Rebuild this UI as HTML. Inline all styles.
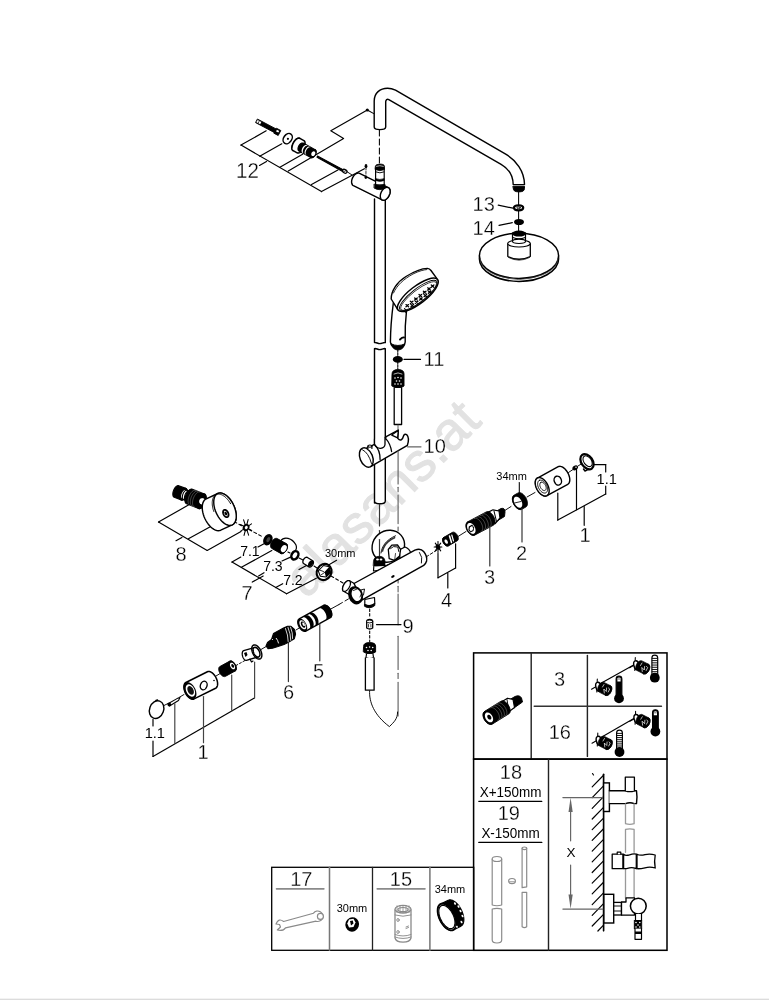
<!DOCTYPE html>
<html><head><meta charset="utf-8"><style>
html,body{margin:0;padding:0;background:#fff;}
body{width:769px;height:1000px;overflow:hidden;position:relative;}
svg{position:absolute;left:0;top:0;will-change:transform;}
text{font-family:"Liberation Sans",sans-serif;}
.t{stroke:#fff;stroke-width:0.3px;}

</style></head><body>
<svg width="769" height="1000" viewBox="0 0 769 1000" stroke-linecap="round" stroke-linejoin="round">
<text x="0" y="0" font-size="54" fill="#e2e2e2" stroke="#e2e2e2" stroke-width="1" transform="translate(306.6,599.6) rotate(-45)" letter-spacing="0.4">alasans.at</text>
<path d="M374.5,199 L374.5,342.6 C376.5,342.2 377.5,343.6 379.8,343.6 C382,343.6 383,342.3 385.3,342.6 L385.3,199" fill="#fff" stroke="#000" stroke-width="1.42"/>
<path d="M374.5,503 L374.5,348.6 C376.5,348.2 377.5,349.6 379.8,349.6 C382,349.6 383,348.3 385.3,348.6 L385.3,501 Q385.3,503.8 379.9,503.8 Q374.5,503.8 374.5,501 Z" fill="#fff" stroke="#000" stroke-width="1.42"/>
<path d="M374.2,127 L374.2,101 C374.2,93 380,88.3 387.6,88.3 C390.5,88.3 393,89 395.5,90.2 L505.7,154.2 C516,160.2 524.4,171 524.5,184.6 L513.2,184.6 C513,175 508,168.3 501.1,164.3 L388.8,99.6 C387.2,98.8 385.7,99.6 385.7,102 L385.7,127 Q385.7,129.6 379.95,129.6 Q374.2,129.6 374.2,127 Z" fill="#fff" stroke="#000" stroke-width="1.42"/>
<path d="M513.2,186.3 L524.5,186.3 L524.5,188.4 Q524.5,191.9 518.85,191.9 Q513.2,191.9 513.2,188.4 Z" fill="#000" stroke="#000" stroke-width="0.94"/>
<line x1="379.4" y1="130" x2="379.4" y2="165" stroke="#000" stroke-width="1.06" stroke-dasharray="6 3"/>
<ellipse cx="367.3" cy="110" rx="1.6" ry="1.6" fill="#000" stroke="none"/>
<line x1="367.3" y1="110" x2="373.8" y2="113.6" stroke="#000" stroke-width="1.06"/>
<polygon points="382.12,199.98 382.65,200.17 383.22,200.26 383.82,200.24 384.45,200.1 385.09,199.86 385.73,199.52 386.36,199.07 386.98,198.54 387.56,197.93 388.1,197.24 388.59,196.5 389.03,195.71 389.4,194.89 389.69,194.04 389.92,193.2 390.05,192.36 390.11,191.55 390.08,190.78 389.97,190.06 389.78,189.41 389.51,188.82 389.16,188.33 388.75,187.93 388.28,187.62 359.58,173.32 359.05,173.13 358.48,173.04 357.88,173.06 357.25,173.2 356.61,173.44 355.97,173.78 355.34,174.23 354.72,174.76 354.14,175.37 353.6,176.06 353.11,176.8 352.67,177.59 352.3,178.41 352.01,179.26 351.78,180.1 351.65,180.94 351.59,181.75 351.62,182.52 351.73,183.24 351.92,183.89 352.19,184.48 352.54,184.97 352.95,185.37 353.42,185.68" fill="#fff" stroke="#000" stroke-width="1.42"/>
<polygon points="382.12,199.98 382.65,200.17 383.22,200.26 383.82,200.24 384.45,200.1 385.09,199.86 385.73,199.52 386.36,199.07 386.98,198.54 387.56,197.93 388.1,197.24 388.59,196.5 389.03,195.71 389.4,194.89 389.69,194.04 389.92,193.2 390.05,192.36 390.11,191.55 390.08,190.78 389.97,190.06 389.78,189.41 389.51,188.82 389.16,188.33 388.75,187.93 388.28,187.62 387.75,187.43 387.18,187.34 386.58,187.36 385.95,187.5 385.31,187.74 384.67,188.08 384.04,188.53 383.42,189.06 382.84,189.67 382.3,190.36 381.81,191.1 381.37,191.89 381,192.71 380.71,193.56 380.48,194.4 380.35,195.24 380.29,196.05 380.32,196.82 380.43,197.54 380.62,198.19 380.89,198.78 381.24,199.27 381.65,199.67 382.12,199.98" fill="#fff" stroke="#000" stroke-width="1.42"/>
<rect x="375.6" y="168" width="8.6" height="17" stroke-linejoin="miter" fill="#fff" stroke="#000" stroke-width="1.18"/>
<path d="M375.3,166.3 Q375.6,164 379.9,164 Q384.2,164 384.5,166.3 L384.5,169.6 Q379.9,171.8 375.3,169.6 Z" fill="#000" stroke="#000" stroke-width="0.71"/>
<path d="M376.5,166.3 Q379.9,165 383.3,166.3" fill="none" stroke="#fff" stroke-width="0.71"/>
<path d="M376,172 Q379.9,173.8 383.8,172" fill="none" stroke="#000" stroke-width="0.94"/>
<path d="M375.6,178.6 Q379.9,180.3 384.2,178.6 L384.2,180.5 Q379.9,182.3 375.6,180.5 Z" fill="#000" stroke="#000" stroke-width="0.59"/>
<path d="M374.3,184.2 Q379.7,186.5 385,184.2 L385,188.2 Q379.7,191.2 374.3,188.2 Z" fill="#000" stroke="#000" stroke-width="0.71"/>
<ellipse cx="366" cy="166.2" rx="1.4" ry="2.1" fill="#000" stroke="none"/>
<ellipse cx="365.8" cy="177.6" rx="1.3" ry="1.3" fill="#000" stroke="none"/>
<line x1="366" y1="168" x2="365.9" y2="176" stroke="#000" stroke-width="0.83" stroke-dasharray="2 1.5"/>
<line x1="241" y1="145.1" x2="321.5" y2="191.6" stroke="#000" stroke-width="1.18"/>
<line x1="241" y1="145.1" x2="266.2" y2="130.8" stroke="#000" stroke-width="1.18"/>
<line x1="259.7" y1="156.2" x2="281.8" y2="143.8" stroke="#000" stroke-width="1.18"/>
<line x1="279.9" y1="167.2" x2="302.6" y2="154.2" stroke="#000" stroke-width="1.18"/>
<polyline points="288.3,171.1 343.6,138.6 330.8,130.8 367.3,110" fill="none" stroke="#000" stroke-width="1.18"/>
<line x1="311.5" y1="184.4" x2="337.9" y2="170.1" stroke="#000" stroke-width="1.18"/>
<line x1="321.5" y1="191.6" x2="364.4" y2="168.7" stroke="#000" stroke-width="1.18"/>
<line x1="259.5" y1="165.4" x2="266.5" y2="161.6" stroke="#000" stroke-width="1.18"/>
<text class="t" transform="translate(236,177.7) scale(0.95,1)" font-size="21.63" text-anchor="start" fill="#000" >12</text>
<polygon points="257.73,119.23 276.01,128.9 276.39,128.19 280.81,130.52 278.19,135.48 273.77,133.14 274.14,132.43 255.87,122.77" fill="#000" stroke="#000" stroke-width="0.94"/>
<polygon points="257.63,120.08 261.34,122.04 260.22,124.16 256.5,122.2" fill="#fff" stroke="none"/>
<line x1="259.4" y1="120.79" x2="258.09" y2="123.27" stroke="#000" stroke-width="0.71"/>
<polygon points="276.89,129.81 279.19,131.02 278.35,132.62 276.05,131.4" fill="#fff" stroke="none"/>
<ellipse cx="287.7" cy="138.6" rx="4" ry="5.6" transform="rotate(35 287.7 138.6)" fill="#fff" stroke="#000" stroke-width="1.53"/>
<ellipse cx="287.9" cy="138.8" rx="1.1" ry="1.1" fill="#000" stroke="none"/>
<polygon points="297.13,152.83 297.56,153 298.04,153.06 298.56,153.01 299.11,152.86 299.69,152.59 300.28,152.23 300.88,151.77 301.47,151.23 302.04,150.61 302.59,149.92 303.1,149.17 303.57,148.39 303.98,147.57 304.34,146.74 304.62,145.91 304.84,145.09 304.99,144.3 305.05,143.56 305.04,142.86 304.95,142.23 304.79,141.68 304.55,141.21 304.24,140.84 303.87,140.57 299.87,138.37 299.44,138.2 298.96,138.14 298.44,138.19 297.89,138.34 297.31,138.61 296.72,138.97 296.12,139.43 295.53,139.97 294.96,140.59 294.41,141.28 293.9,142.03 293.43,142.81 293.02,143.63 292.66,144.46 292.38,145.29 292.16,146.11 292.01,146.9 291.95,147.64 291.96,148.34 292.05,148.97 292.21,149.52 292.45,149.99 292.76,150.36 293.13,150.63" fill="#fff" stroke="#000" stroke-width="1.53"/>
<polyline points="299.84,138.35 299.63,138.25 299.41,138.18 299.18,138.14 298.93,138.13 298.67,138.14 298.41,138.18 298.13,138.24 297.85,138.34 297.57,138.46 297.28,138.6 296.98,138.77 296.69,138.97 296.39,139.19 296.09,139.43 295.8,139.69 295.51,139.98 295.22,140.28 294.94,140.6 294.66,140.94 294.39,141.29 294.13,141.66 293.89,142.04 293.65,142.43 293.42,142.83 293.21,143.24 293.01,143.65 292.83,144.06 292.66,144.48 292.51,144.9 292.38,145.31 292.26,145.72 292.17,146.13 292.09,146.53 292.03,146.92 291.99,147.3 291.96,147.67 291.96,148.02 291.98,148.36 292.01,148.69 292.07,148.99 292.14,149.28 292.24,149.54 292.35,149.79 292.48,150.01 292.62,150.21 292.79,150.38 292.97,150.53 293.16,150.65" fill="#fff" stroke="#000" stroke-width="1.53"/>
<polygon points="310.88,157.46 311.17,157.57 311.5,157.63 311.85,157.61 312.22,157.52 312.61,157.37 313,157.15 313.39,156.87 313.78,156.54 314.15,156.15 314.5,155.72 314.83,155.26 315.12,154.77 315.38,154.25 315.6,153.73 315.77,153.2 315.9,152.68 315.97,152.18 316,151.7 315.97,151.25 315.9,150.84 315.77,150.48 315.6,150.18 315.38,149.93 315.12,149.74 303.12,143.14 302.83,143.03 302.5,142.97 302.15,142.99 301.78,143.08 301.39,143.23 301,143.45 300.61,143.73 300.22,144.06 299.85,144.45 299.5,144.88 299.17,145.34 298.88,145.83 298.62,146.35 298.4,146.87 298.23,147.4 298.1,147.92 298.03,148.42 298,148.9 298.03,149.35 298.1,149.76 298.23,150.12 298.4,150.42 298.62,150.67 298.88,150.86" fill="#000" stroke="#000" stroke-width="1.18"/>
<polygon points="306.7,145.11 306.4,145 306.08,144.95 305.73,144.97 305.35,145.05 304.97,145.21 304.58,145.43 304.19,145.71 303.81,146.05 303.44,146.43 303.09,146.86 302.77,147.33 302.47,147.83 302.22,148.34 302,148.87 301.83,149.39 301.71,149.91 301.63,150.42 301.61,150.9 301.64,151.35 301.72,151.75 301.85,152.11 302.02,152.42 302.24,152.66 302.5,152.85 303.7,153.51 303.44,153.32 303.22,153.08 303.05,152.77 302.92,152.41 302.84,152.01 302.81,151.56 302.83,151.08 302.91,150.57 303.03,150.05 303.2,149.53 303.42,149 303.67,148.49 303.97,147.99 304.29,147.52 304.64,147.09 305.01,146.71 305.39,146.37 305.78,146.09 306.17,145.87 306.55,145.71 306.93,145.63 307.28,145.61 307.6,145.66 307.9,145.77" fill="#fff" stroke="none"/>
<polygon points="309.7,146.76 309.4,146.65 309.08,146.6 308.73,146.62 308.35,146.7 307.97,146.86 307.58,147.08 307.19,147.36 306.81,147.7 306.44,148.08 306.09,148.51 305.77,148.98 305.47,149.48 305.22,149.99 305,150.52 304.83,151.04 304.71,151.56 304.63,152.07 304.61,152.55 304.64,153 304.72,153.4 304.85,153.76 305.02,154.07 305.24,154.31 305.5,154.5 306.46,155.02 306.2,154.84 305.98,154.59 305.81,154.29 305.68,153.93 305.6,153.52 305.57,153.08 305.59,152.6 305.67,152.09 305.79,151.57 305.96,151.04 306.18,150.52 306.43,150 306.73,149.51 307.05,149.04 307.4,148.61 307.77,148.22 308.15,147.89 308.54,147.61 308.93,147.39 309.31,147.23 309.69,147.14 310.04,147.12 310.36,147.17 310.66,147.29" fill="#fff" stroke="none"/>
<polygon points="310.9,157.47 311.22,157.6 311.57,157.66 311.95,157.65 312.34,157.58 312.75,157.43 313.16,157.22 313.56,156.95 313.96,156.62 314.34,156.24 314.7,155.82 315.03,155.35 315.32,154.86 315.57,154.34 315.78,153.82 315.95,153.28 316.06,152.76 316.12,152.25 316.12,151.76 316.08,151.3 315.98,150.88 315.83,150.51 315.63,150.19 315.38,149.93 315.1,149.73 314.78,149.6 314.43,149.54 314.05,149.55 313.66,149.62 313.25,149.77 312.84,149.98 312.44,150.25 312.04,150.58 311.66,150.96 311.3,151.38 310.97,151.85 310.68,152.34 310.43,152.86 310.22,153.38 310.05,153.92 309.94,154.44 309.88,154.95 309.88,155.44 309.92,155.9 310.02,156.32 310.17,156.69 310.37,157.01 310.62,157.27 310.9,157.47" fill="#000" stroke="#000" stroke-width="1.18"/>
<polygon points="312.11,155.9 312.33,156 312.57,156.05 312.83,156.07 313.09,156.05 313.36,155.99 313.62,155.89 313.88,155.75 314.13,155.57 314.37,155.37 314.58,155.13 314.78,154.87 314.95,154.59 315.09,154.3 315.2,154 315.28,153.69 315.32,153.38 315.33,153.07 315.31,152.78 315.25,152.5 315.16,152.24 315.03,152.01 314.88,151.81 314.7,151.64 314.49,151.5 314.27,151.4 314.03,151.35 313.77,151.33 313.51,151.35 313.24,151.41 312.98,151.51 312.72,151.65 312.47,151.83 312.23,152.03 312.02,152.27 311.82,152.53 311.65,152.81 311.51,153.1 311.4,153.4 311.32,153.71 311.28,154.02 311.27,154.33 311.29,154.62 311.35,154.9 311.44,155.16 311.57,155.39 311.72,155.59 311.9,155.76 312.11,155.9" fill="#fff" stroke="none"/>
<path d="M317.5,156 L343,169.6 L342.2,171.2 L317,157.2 Z" fill="#000" stroke="#000" stroke-width="1.06"/>
<ellipse cx="344.8" cy="171.3" rx="2.4" ry="1.7" transform="rotate(30 344.8 171.3)" fill="#fff" stroke="#000" stroke-width="1.3"/>
<line x1="343.5" y1="171.8" x2="346.3" y2="170.6" stroke="#000" stroke-width="0.71"/>
<line x1="347.5" y1="172" x2="352" y2="175" stroke="#000" stroke-width="0.94"/>
<line x1="518.6" y1="192" x2="518.6" y2="231" stroke="#000" stroke-width="1.06"/>
<ellipse cx="518.6" cy="207.8" rx="4.6" ry="2.5" fill="#fff" stroke="#000" stroke-width="2.24"/>
<ellipse cx="518.6" cy="207.8" rx="1.8" ry="0.8" fill="#fff" stroke="#000" stroke-width="0.83"/>
<line x1="498.2" y1="205.1" x2="513" y2="208.2" stroke="#000" stroke-width="1.18"/>
<text class="t" transform="translate(472.6,210.8) scale(0.95,1)" font-size="21.1" text-anchor="start" fill="#000" >13</text>
<ellipse cx="519" cy="222" rx="5" ry="3.1" fill="#000" stroke="none"/>
<line x1="499" y1="225.4" x2="512.3" y2="222.7" stroke="#000" stroke-width="1.18"/>
<text class="t" transform="translate(472.6,234.9) scale(0.95,1)" font-size="21.1" text-anchor="start" fill="#000" >14</text>
<ellipse cx="519" cy="258.8" rx="39.6" ry="22.6" fill="#fff" stroke="#000" stroke-width="1.53"/>
<ellipse cx="519" cy="255.8" rx="39.6" ry="22.6" fill="#fff" stroke="#000" stroke-width="1.53"/>
<path d="M480.2,258.5 Q481,276 519,279.7 Q557,276 557.8,258.5" fill="none" stroke="#444" stroke-width="0.71"/>
<path d="M507.8,244 L507.8,256.5 Q519,262 530.3,256.5 L530.3,244" fill="#fff" stroke="#000" stroke-width="1.3"/>
<ellipse cx="519" cy="243.5" rx="11.3" ry="3.5" fill="#fff" stroke="#000" stroke-width="1.18"/>
<path d="M508.5,257.5 Q519,263 529.6,257.5" fill="none" stroke="#000" stroke-width="0.71"/>
<rect x="512.5" y="233" width="13" height="8.5" stroke-linejoin="miter" fill="#fff" stroke="#000" stroke-width="1.18"/>
<ellipse cx="519" cy="241.3" rx="6.5" ry="2.2" fill="#fff" stroke="#000" stroke-width="1.06"/>
<ellipse cx="519" cy="233.6" rx="7" ry="3" fill="#000" stroke="none"/>
<path d="M512.8,237.5 Q519,240 525.2,237.5" fill="none" stroke="#000" stroke-width="1.18"/>
<path d="M393.3,303 C391.8,315 390.5,330 390.4,342 Q391,347.5 397.7,347.8 Q404.8,347.5 405.2,342 L405.3,326 L406.5,310.7" fill="#fff" stroke="#000" stroke-width="1.42"/>
<path d="M391.5,344 Q392.5,349.8 397.9,350 Q403.5,349.8 404.5,344 Q397.9,347 391.5,344 Z" fill="#000" stroke="#000" stroke-width="0.94"/>
<path d="M400,339.5 Q402.5,337 404,337.5" fill="none" stroke="#000" stroke-width="1.89"/>
<path d="M391.2,299 C391,291 397,282 406,276.5 C414,271.5 421,268.6 427.5,268.4 Q429.5,268.5 431,270.5 L436.9,278.7 L397.5,309.2 Z" fill="#fff" stroke="#000" stroke-width="1.42"/>
<path d="M393.5,293 C397,285 404,279 413,274 C419,271 424,269.8 426.5,269.6" fill="none" stroke="#000" stroke-width="0.83"/>
<ellipse cx="417.8" cy="294.8" rx="25" ry="8.6" transform="rotate(-37.7 417.8 294.8)" fill="#fff" stroke="#000" stroke-width="1.53"/>
<ellipse cx="418.35" cy="295.51" rx="23.2" ry="6.9" transform="rotate(-37.7 418.35 295.51)" fill="#fff" stroke="#000" stroke-width="0.94"/>
<ellipse cx="418.66" cy="295.91" rx="22.2" ry="6" transform="rotate(-37.7 418.66 295.91)" fill="none" stroke="#000" stroke-width="0.71"/>
<path d="M405.97700649389645,304.6135973753159 L408.5770064938965,306.81359737531596 M405.97700649389645,306.81359737531596 L408.5770064938965,304.6135973753159" fill="none" stroke="#000" stroke-width="1.3"/>
<path d="M410.32873592521764,301.25019865429385 L412.92873592521767,303.4501986542939 M410.32873592521764,303.4501986542939 L412.92873592521767,301.25019865429385" fill="none" stroke="#000" stroke-width="1.3"/>
<path d="M414.68046535653883,297.8867999332718 L417.28046535653885,300.08679993327183 M414.68046535653883,300.08679993327183 L417.28046535653885,297.8867999332718" fill="none" stroke="#000" stroke-width="1.3"/>
<path d="M419.03219478786,294.5234012122497 L421.63219478786004,296.72340121224977 M419.03219478786,296.72340121224977 L421.63219478786004,294.5234012122497" fill="none" stroke="#000" stroke-width="1.3"/>
<path d="M423.3839242191812,291.16000249122766 L425.98392421918123,293.3600024912277 M423.3839242191812,293.3600024912277 L425.98392421918123,291.16000249122766" fill="none" stroke="#000" stroke-width="1.3"/>
<path d="M427.73565365050246,287.79660377020554 L430.3356536505025,289.9966037702056 M427.73565365050246,289.9966037702056 L430.3356536505025,287.79660377020554" fill="none" stroke="#000" stroke-width="1.3"/>
<path d="M431.2961595488561,285.04473208936935 L433.89615954885613,287.2447320893694 M431.2961595488561,287.2447320893694 L433.89615954885613,285.04473208936935" fill="none" stroke="#000" stroke-width="1.3"/>
<path d="M410.97648174632394,304.5411598134751 L413.57648174632396,306.7411598134751 M410.97648174632394,306.7411598134751 L413.57648174632396,304.5411598134751" fill="none" stroke="#000" stroke-width="1.3"/>
<path d="M415.32821117764513,301.177761092453 L417.92821117764515,303.37776109245306 M415.32821117764513,303.37776109245306 L417.92821117764515,301.177761092453" fill="none" stroke="#000" stroke-width="1.3"/>
<path d="M419.6799406089663,297.81436237143095 L422.27994060896634,300.014362371431 M419.6799406089663,300.014362371431 L422.27994060896634,297.81436237143095" fill="none" stroke="#000" stroke-width="1.3"/>
<path d="M424.0316700402875,294.4509636504089 L426.63167004028753,296.6509636504089 M424.0316700402875,296.6509636504089 L426.63167004028753,294.4509636504089" fill="none" stroke="#000" stroke-width="1.3"/>
<path d="M428.3833994716087,291.0875649293868 L430.9833994716087,293.28756492938686 M428.3833994716087,293.28756492938686 L430.9833994716087,291.0875649293868" fill="none" stroke="#000" stroke-width="1.3"/>
<path d="M404.5,308.5 L406.5,311 L405.8,312.5" fill="none" stroke="#000" stroke-width="1.18"/>
<line x1="397.8" y1="350" x2="397.8" y2="369" stroke="#000" stroke-width="1.06" stroke-dasharray="2 1"/>
<ellipse cx="397.8" cy="359.4" rx="5" ry="3.3" fill="#000" stroke="none"/>
<line x1="404" y1="359.4" x2="420.5" y2="359.4" stroke="#000" stroke-width="1.18"/>
<text class="t" transform="translate(423.5,365.8) scale(0.95,1)" font-size="21.1" text-anchor="start" fill="#000" >11</text>
<path d="M392,374 Q392,369.6 398,369.6 Q404,369.6 404,374 L404,386 Q398,390.5 392,386 Z" fill="#000" stroke="#000" stroke-width="0.94"/>
<ellipse cx="395" cy="378" rx="0.8" ry="0.8" fill="#fff" stroke="none"/>
<ellipse cx="398" cy="377.5" rx="0.8" ry="0.8" fill="#fff" stroke="none"/>
<ellipse cx="401" cy="378" rx="0.8" ry="0.8" fill="#fff" stroke="none"/>
<ellipse cx="396.5" cy="381" rx="0.8" ry="0.8" fill="#fff" stroke="none"/>
<ellipse cx="399.5" cy="381" rx="0.8" ry="0.8" fill="#fff" stroke="none"/>
<ellipse cx="395" cy="384" rx="0.8" ry="0.8" fill="#fff" stroke="none"/>
<ellipse cx="398" cy="384" rx="0.8" ry="0.8" fill="#fff" stroke="none"/>
<ellipse cx="401" cy="384" rx="0.8" ry="0.8" fill="#fff" stroke="none"/>
<path d="M394,374 Q398,371.6 402,374" fill="none" stroke="#fff" stroke-width="0.71"/>
<path d="M394.2,388 L394.2,424.5 L401.6,424.5 L401.6,388" fill="#fff" stroke="#000" stroke-width="1.3"/>
<line x1="398" y1="425" x2="398" y2="433" stroke="#555" stroke-width="0.94"/>
<path d="M361.5,450.6 L374.5,444.3 L385,439.2 L386.2,436.7 L398.3,430.1 L397.8,438.4 Q399.5,440.6 401.2,439.9 Q402.9,438.6 403.8,435.2 Q405,433.6 406.6,434.6 Q409.8,437.8 407.4,445.3 L370.6,466.6 Z" fill="#fff" stroke="#000" stroke-width="1.42"/>
<path d="M374.5,439 L374.5,444.3 Q376.5,448.6 380.7,448.3 Q384.6,447.8 385,444.5 L385,437.5" fill="#fff" stroke="#000" stroke-width="1.3"/>
<path d="M391.7,435.1 L398.2,430.6 L397.6,437.9 Z" fill="#fff" stroke="#000" stroke-width="1.18"/>
<path d="M374.6,444.8 Q380.2,450 380.1,459.5" fill="none" stroke="#000" stroke-width="1.3"/>
<path d="M385.8,438.6 Q390.3,443.5 391.6,451.5" fill="none" stroke="#000" stroke-width="1.3"/>
<ellipse cx="366.3" cy="457.5" rx="6.3" ry="10.1" transform="rotate(-22 366.3 457.5)" fill="#fff" stroke="#000" stroke-width="1.42"/>
<path d="M362.5,449.8 Q368.5,452.5 371.5,463.5" fill="none" stroke="#000" stroke-width="0.94"/>
<path d="M367.9,449.8 L367.9,446.2 L371.9,446.2 L371.9,448.6 Z" fill="#fff" stroke="none"/>
<line x1="367.9" y1="446.2" x2="367.9" y2="449.6" stroke="#000" stroke-width="1.18"/>
<line x1="371.9" y1="446.2" x2="371.9" y2="448.4" stroke="#000" stroke-width="1.18"/>
<ellipse cx="369.9" cy="446.1" rx="2" ry="1.1" fill="#fff" stroke="#000" stroke-width="1.06"/>
<line x1="407.5" y1="446.8" x2="421" y2="446.8" stroke="#666" stroke-width="1.18"/>
<text class="t" transform="translate(423.5,453.4) scale(0.95,1)" font-size="21.1" text-anchor="start" fill="#000" >10</text>
<line x1="205" y1="506" x2="244" y2="527" stroke="#000" stroke-width="1.06" stroke-dasharray="3 2.5"/>
<line x1="249" y1="529.5" x2="263" y2="537" stroke="#000" stroke-width="1.06" stroke-dasharray="3 2.5"/>
<line x1="283" y1="549.5" x2="290" y2="553" stroke="#000" stroke-width="1.06" stroke-dasharray="3 2.5"/>
<line x1="299" y1="558" x2="303" y2="560" stroke="#000" stroke-width="1.06"/>
<line x1="314" y1="566" x2="317" y2="568" stroke="#000" stroke-width="1.06"/>
<line x1="331" y1="576" x2="343" y2="583" stroke="#000" stroke-width="1.06" stroke-dasharray="3 2.5"/>
<line x1="162" y1="706.5" x2="168" y2="703.5" stroke="#000" stroke-width="0.94"/>
<line x1="179" y1="697.5" x2="184" y2="694.5" stroke="#000" stroke-width="0.94"/>
<line x1="216" y1="676" x2="221" y2="673" stroke="#000" stroke-width="0.94"/>
<line x1="236" y1="665.5" x2="245" y2="660.5" stroke="#000" stroke-width="0.94" stroke-dasharray="2 2"/>
<line x1="261" y1="649.5" x2="267" y2="646" stroke="#000" stroke-width="0.94"/>
<line x1="296" y1="630" x2="300" y2="627.5" stroke="#000" stroke-width="0.94"/>
<line x1="329" y1="610" x2="339" y2="604.5" stroke="#000" stroke-width="0.94"/>
<line x1="339" y1="604.5" x2="350" y2="598" stroke="#000" stroke-width="0.94" stroke-dasharray="4 3"/>
<line x1="426" y1="557" x2="437" y2="550" stroke="#000" stroke-width="0.94" stroke-dasharray="3 2"/>
<line x1="458" y1="536.5" x2="466" y2="531.5" stroke="#000" stroke-width="0.94"/>
<line x1="504" y1="511" x2="511" y2="506.5" stroke="#000" stroke-width="0.94"/>
<line x1="527" y1="497" x2="535" y2="492.5" stroke="#000" stroke-width="0.94"/>
<line x1="568.5" y1="472.5" x2="573" y2="469.5" stroke="#000" stroke-width="0.94"/>
<line x1="578" y1="466" x2="582" y2="463.5" stroke="#000" stroke-width="0.94"/>
<line x1="379.5" y1="504" x2="379.5" y2="526" stroke="#333" stroke-width="1.18"/>
<line x1="379.5" y1="530.5" x2="379.5" y2="537" stroke="#333" stroke-width="1.18"/>
<line x1="398.1" y1="451" x2="398.1" y2="484" stroke="#666" stroke-width="1.18"/>
<line x1="398.1" y1="487.3" x2="398.1" y2="491.7" stroke="#666" stroke-width="1.18"/>
<line x1="398.1" y1="495" x2="398.1" y2="523.6" stroke="#666" stroke-width="1.18"/>
<line x1="398.1" y1="527" x2="398.1" y2="531" stroke="#666" stroke-width="1.18"/>
<line x1="398.1" y1="534.5" x2="398.1" y2="566" stroke="#666" stroke-width="1.18"/>
<line x1="398.1" y1="576.4" x2="398.1" y2="583" stroke="#666" stroke-width="1.18"/>
<line x1="398.1" y1="586.3" x2="398.1" y2="591.8" stroke="#666" stroke-width="1.18"/>
<line x1="398.1" y1="594" x2="398.1" y2="624.8" stroke="#666" stroke-width="1.18"/>
<line x1="398.1" y1="636.3" x2="398.1" y2="669.4" stroke="#666" stroke-width="1.18"/>
<line x1="398.1" y1="673.3" x2="398.1" y2="678.5" stroke="#666" stroke-width="1.18"/>
<line x1="398.1" y1="682.4" x2="398.1" y2="716" stroke="#666" stroke-width="1.18"/>
<line x1="369.7" y1="609" x2="369.7" y2="618" stroke="#000" stroke-width="1.06" stroke-dasharray="2.5 2"/>
<line x1="369.7" y1="631" x2="369.7" y2="642" stroke="#000" stroke-width="1.06" stroke-dasharray="2.5 2"/>
<ellipse cx="388.3" cy="546.2" rx="16.8" ry="15.4" transform="rotate(-40 388.3 546.2)" fill="#fff" stroke="#000" stroke-width="1.42"/>
<line x1="379.5" y1="539.5" x2="379.5" y2="556" stroke="#333" stroke-width="1.18"/>
<path d="M381,553 C382,546 386,540 395.5,535.8" fill="none" stroke="#000" stroke-width="0.94"/>
<path d="M382.5,551 C384,545 388,540.5 395,537.5" fill="none" stroke="#333" stroke-width="1.65" stroke-dasharray="0.6 0.6"/>
<path d="M399,550 L405,547 Q409.5,548.5 411,553.5 L404.5,559 L400,558.5 Z" fill="#fff" stroke="#000" stroke-width="1.3"/>
<path d="M388.3,549.5 L391.8,545.2 L397.5,545 L400.6,549.3 L399.6,556 L394.6,560.3 L389.2,558.7 Z" fill="#fff" stroke="#000" stroke-width="1.3"/>
<path d="M390.6,548.6 L393.5,546.6 L397.8,547 L398.8,551.5" fill="none" stroke="#000" stroke-width="0.94"/>
<line x1="394.6" y1="560.3" x2="395.5" y2="553.5" stroke="#000" stroke-width="0.71"/>
<path d="M373.5,561 Q374,556.5 379.2,556.3 Q384.5,556.5 385,561 L385,566 Q379.2,569 373.5,566 Z" fill="#000" stroke="#000" stroke-width="0.71"/>
<ellipse cx="377.5" cy="559.5" rx="1.4" ry="1" fill="#fff" stroke="none"/>
<ellipse cx="381" cy="559.5" rx="1.4" ry="1" fill="#fff" stroke="none"/>
<path d="M373.8,566.5 L373.5,571 L384,569.5 L391,565.5 L391.5,563.5 L385,566" fill="#fff" stroke="#000" stroke-width="1.18"/>
<polygon points="349.48,580.79 349.11,580.64 348.7,580.58 348.25,580.62 347.78,580.74 347.28,580.96 346.76,581.26 346.25,581.65 345.73,582.11 345.23,582.63 344.75,583.21 344.31,583.84 343.9,584.51 343.53,585.2 343.21,585.91 342.95,586.62 342.76,587.32 342.62,587.99 342.55,588.63 342.55,589.23 342.62,589.77 342.75,590.24 342.95,590.65 343.21,590.97 343.52,591.21 350.52,595.21 350.89,595.36 351.3,595.42 351.75,595.38 352.22,595.26 352.72,595.04 353.24,594.74 353.75,594.35 354.27,593.89 354.77,593.37 355.25,592.79 355.69,592.16 356.1,591.49 356.47,590.8 356.79,590.09 357.05,589.38 357.24,588.68 357.38,588.01 357.45,587.37 357.45,586.77 357.38,586.23 357.25,585.76 357.05,585.35 356.79,585.03 356.48,584.79" fill="#fff" stroke="#000" stroke-width="1.3"/>
<polygon points="349.48,580.79 349.11,580.64 348.7,580.58 348.25,580.62 347.78,580.74 347.28,580.96 346.76,581.26 346.25,581.65 345.73,582.11 345.23,582.63 344.75,583.21 344.31,583.84 343.9,584.51 343.53,585.2 343.21,585.91 342.95,586.62 342.76,587.32 342.62,587.99 342.55,588.63 342.55,589.23 342.62,589.77 342.75,590.24 342.95,590.65 343.21,590.97 343.52,591.21 343.89,591.36 344.3,591.42 344.75,591.38 345.22,591.26 345.72,591.04 346.24,590.74 346.75,590.35 347.27,589.89 347.77,589.37 348.25,588.79 348.69,588.16 349.1,587.49 349.47,586.8 349.79,586.09 350.05,585.38 350.24,584.68 350.38,584.01 350.45,583.37 350.45,582.77 350.38,582.23 350.25,581.76 350.05,581.35 349.79,581.03 349.48,580.79" fill="#fff" stroke="#000" stroke-width="1.3"/>
<path d="M354,583.5 L414.9,550.2 Q420.5,547.8 423.6,551.5 Q427.5,556 426.6,561 Q425.8,563.8 423.7,565.4 L362.2,599.9 Z" fill="#fff" stroke="#000" stroke-width="1.42"/>
<path d="M419.5,552.5 Q423,557 421.5,563" fill="none" stroke="#000" stroke-width="0.94"/>
<ellipse cx="392.9" cy="576.5" rx="1.9" ry="1.1" transform="rotate(-30 392.9 576.5)" fill="#000" stroke="none"/>
<ellipse cx="355.6" cy="595.3" rx="7.3" ry="9.3" transform="rotate(-20 355.6 595.3)" fill="#000" stroke="none"/>
<ellipse cx="356.4" cy="594.8" rx="4.6" ry="6.4" transform="rotate(-20 356.4 594.8)" fill="#fff" stroke="none"/>
<path d="M353.5,590.5 L357,589 M360,597 L361.5,593.5" fill="none" stroke="#000" stroke-width="0.83"/>
<path d="M361,590 L364.5,589 L363.5,595" fill="none" stroke="#000" stroke-width="0.94"/>
<path d="M364.8,599.5 L374.5,597.5 L374.8,603.5 Q370,607 364.8,604.5 Z" fill="#fff" stroke="#000" stroke-width="1.18"/>
<path d="M364.8,604.5 Q370,607.5 374.8,603.5 L374.8,605.5 Q370,609.5 364.8,606.5 Z" fill="#000" stroke="#000" stroke-width="0.94"/>
<path d="M366.7,621.5 Q366.7,619.5 369.7,619.5 Q372.7,619.5 372.7,621.5 L372.7,628 Q369.7,630 366.7,628 Z" fill="#fff" stroke="#000" stroke-width="1.3"/>
<ellipse cx="369.7" cy="621.5" rx="3" ry="1.4" fill="#fff" stroke="#000" stroke-width="0.94"/>
<line x1="368.5" y1="624.5" x2="368.5" y2="627" stroke="#000" stroke-width="0.71"/>
<line x1="370.9" y1="624.5" x2="370.9" y2="627" stroke="#000" stroke-width="0.71"/>
<line x1="376.5" y1="624.6" x2="401" y2="624.6" stroke="#000" stroke-width="1.18"/>
<text class="t" transform="translate(402.5,632.7) scale(0.95,1)" font-size="21.1" text-anchor="start" fill="#000" >9</text>
<polygon points="181.27,499.98 181.67,500.08 182.09,500.08 182.55,499.97 183.01,499.77 183.49,499.47 183.97,499.08 184.44,498.61 184.89,498.06 185.32,497.44 185.72,496.77 186.08,496.06 186.39,495.32 186.66,494.55 186.87,493.78 187.03,493.02 187.12,492.27 187.15,491.56 187.12,490.9 187.03,490.29 186.88,489.75 186.67,489.28 186.4,488.9 186.09,488.61 185.73,488.42 178.73,485.72 178.33,485.62 177.91,485.62 177.45,485.73 176.99,485.93 176.51,486.23 176.03,486.62 175.56,487.09 175.11,487.64 174.68,488.26 174.28,488.93 173.92,489.64 173.61,490.38 173.34,491.15 173.13,491.92 172.97,492.68 172.88,493.43 172.85,494.14 172.88,494.8 172.97,495.41 173.12,495.95 173.33,496.42 173.6,496.8 173.91,497.09 174.27,497.28" fill="#000" stroke="#000" stroke-width="1.18"/>
<polygon points="181.27,499.98 181.67,500.08 182.09,500.08 182.55,499.97 183.01,499.77 183.49,499.47 183.97,499.08 184.44,498.61 184.89,498.06 185.32,497.44 185.72,496.77 186.08,496.06 186.39,495.32 186.66,494.55 186.87,493.78 187.03,493.02 187.12,492.27 187.15,491.56 187.12,490.9 187.03,490.29 186.88,489.75 186.67,489.28 186.4,488.9 186.09,488.61 185.73,488.42 185.33,488.32 184.91,488.32 184.45,488.43 183.99,488.63 183.51,488.93 183.03,489.32 182.56,489.79 182.11,490.34 181.68,490.96 181.28,491.63 180.92,492.34 180.61,493.08 180.34,493.85 180.13,494.62 179.97,495.38 179.88,496.13 179.85,496.84 179.88,497.5 179.97,498.11 180.12,498.65 180.33,499.12 180.6,499.5 180.91,499.79 181.27,499.98" fill="#000" stroke="#000" stroke-width="1.18"/>
<polygon points="187.71,501.17 188.03,501.25 188.38,501.24 188.74,501.16 189.12,500.99 189.5,500.75 189.89,500.43 190.26,500.05 190.63,499.61 190.97,499.11 191.29,498.57 191.58,498 191.83,497.39 192.05,496.78 192.22,496.16 192.34,495.54 192.42,494.94 192.44,494.37 192.42,493.83 192.34,493.34 192.22,492.9 192.05,492.53 191.83,492.22 191.58,491.99 191.29,491.83 185.29,489.53 184.97,489.45 184.62,489.46 184.26,489.54 183.88,489.71 183.5,489.95 183.11,490.27 182.74,490.65 182.37,491.09 182.03,491.59 181.71,492.13 181.42,492.7 181.17,493.31 180.95,493.92 180.78,494.54 180.66,495.16 180.58,495.76 180.56,496.33 180.58,496.87 180.66,497.36 180.78,497.8 180.95,498.17 181.17,498.48 181.42,498.71 181.71,498.87" fill="#fff" stroke="#000" stroke-width="1.18"/>
<polyline points="187.08,490.22 186.76,490.14 186.41,490.15 186.05,490.23 185.67,490.4 185.29,490.64 184.91,490.96 184.53,491.34 184.17,491.78 183.82,492.28 183.5,492.82 183.22,493.4 182.96,494 182.75,494.62 182.58,495.24 182.46,495.86 182.39,496.46 182.36,497.03 182.39,497.56 182.47,498.06 182.59,498.49 182.76,498.87 182.98,499.17 183.23,499.41 183.52,499.56" fill="none" stroke="#000" stroke-width="1.06"/>
<polyline points="189.18,491.02 188.86,490.95 188.51,490.95 188.15,491.04 187.77,491.2 187.39,491.45 187.01,491.76 186.63,492.14 186.27,492.59 185.92,493.08 185.6,493.63 185.32,494.2 185.06,494.81 184.85,495.42 184.68,496.04 184.56,496.66 184.49,497.26 184.46,497.83 184.49,498.37 184.57,498.86 184.69,499.3 184.86,499.67 185.08,499.98 185.33,500.21 185.62,500.37" fill="none" stroke="#000" stroke-width="1.06"/>
<polygon points="198.66,508.46 199.15,508.59 199.69,508.58 200.26,508.45 200.85,508.2 201.45,507.83 202.06,507.34 202.65,506.75 203.22,506.06 203.77,505.29 204.27,504.45 204.73,503.56 205.13,502.62 205.47,501.66 205.74,500.69 205.94,499.73 206.07,498.8 206.11,497.91 206.08,497.07 205.97,496.3 205.78,495.62 205.52,495.03 205.19,494.55 204.79,494.18 204.34,493.94 192.34,489.24 191.85,489.11 191.31,489.12 190.74,489.25 190.15,489.5 189.55,489.87 188.94,490.36 188.35,490.95 187.78,491.64 187.23,492.41 186.73,493.25 186.27,494.14 185.87,495.08 185.53,496.04 185.26,497.01 185.06,497.97 184.93,498.9 184.89,499.79 184.92,500.63 185.03,501.4 185.22,502.08 185.48,502.67 185.81,503.15 186.21,503.52 186.66,503.76" fill="#000" stroke="#000" stroke-width="1.18"/>
<polygon points="198.66,508.46 199.15,508.59 199.69,508.58 200.26,508.45 200.85,508.2 201.45,507.83 202.06,507.34 202.65,506.75 203.22,506.06 203.77,505.29 204.27,504.45 204.73,503.56 205.13,502.62 205.47,501.66 205.74,500.69 205.94,499.73 206.07,498.8 206.11,497.91 206.08,497.07 205.97,496.3 205.78,495.62 205.52,495.03 205.19,494.55 204.79,494.18 204.34,493.94 203.85,493.81 203.31,493.82 202.74,493.95 202.15,494.2 201.55,494.57 200.94,495.06 200.35,495.65 199.78,496.34 199.23,497.11 198.73,497.95 198.27,498.84 197.87,499.78 197.53,500.74 197.26,501.71 197.06,502.67 196.93,503.6 196.89,504.49 196.92,505.33 197.03,506.1 197.22,506.78 197.48,507.37 197.81,507.85 198.21,508.22 198.66,508.46" fill="#000" stroke="#000" stroke-width="1.18"/>
<polyline points="195.65,490.31 195.14,490.19 194.58,490.2 194,490.34 193.4,490.6 192.78,490.99 192.17,491.5 191.57,492.11 190.99,492.82 190.44,493.61 189.93,494.48 189.47,495.4 189.06,496.37 188.72,497.35 188.45,498.35 188.26,499.34 188.14,500.29 188.1,501.21 188.14,502.07 188.27,502.85 188.46,503.55 188.74,504.15 189.08,504.64 189.49,505.02 189.95,505.27" fill="none" stroke="#777" stroke-width="0.59"/>
<polyline points="197.85,491.17 197.34,491.05 196.78,491.06 196.2,491.2 195.6,491.46 194.98,491.85 194.37,492.36 193.77,492.97 193.19,493.68 192.64,494.47 192.13,495.34 191.67,496.26 191.26,497.23 190.92,498.21 190.65,499.21 190.46,500.2 190.34,501.15 190.3,502.07 190.34,502.93 190.47,503.71 190.66,504.41 190.94,505.01 191.28,505.5 191.69,505.88 192.15,506.13" fill="none" stroke="#777" stroke-width="0.59"/>
<polyline points="200.05,492.03 199.54,491.91 198.98,491.92 198.4,492.06 197.8,492.32 197.18,492.71 196.57,493.22 195.97,493.83 195.39,494.54 194.84,495.33 194.33,496.2 193.87,497.12 193.46,498.09 193.12,499.07 192.85,500.07 192.66,501.06 192.54,502.01 192.5,502.93 192.54,503.79 192.67,504.57 192.86,505.27 193.14,505.87 193.48,506.36 193.89,506.74 194.35,506.99" fill="none" stroke="#777" stroke-width="0.59"/>
<polygon points="201.06,504.29 201.44,504.41 201.83,504.47 202.23,504.48 202.63,504.43 203.03,504.33 203.4,504.18 203.76,503.98 204.09,503.73 204.39,503.44 204.65,503.12 204.87,502.76 205.04,502.38 205.17,501.98 205.24,501.57 205.26,501.16 205.23,500.74 205.15,500.34 205.01,499.95 204.83,499.59 204.61,499.25 204.34,498.95 204.04,498.69 203.7,498.48 203.34,498.31 202.96,498.19 202.57,498.13 202.17,498.12 201.77,498.17 201.37,498.27 201,498.42 200.64,498.62 200.31,498.87 200.01,499.16 199.75,499.48 199.53,499.84 199.36,500.22 199.23,500.62 199.16,501.03 199.14,501.44 199.17,501.86 199.25,502.26 199.39,502.65 199.57,503.01 199.79,503.35 200.06,503.65 200.36,503.91 200.7,504.12 201.06,504.29" fill="#fff" stroke="none"/>
<polygon points="232.24,524.91 233.31,524.26 234.23,523.35 235,522.19 235.59,520.82 236.01,519.24 236.23,517.49 236.26,515.61 236.1,513.61 235.75,511.53 235.22,509.42 234.51,507.3 233.64,505.22 232.62,503.2 231.47,501.29 230.21,499.51 228.86,497.9 227.45,496.48 225.99,495.27 224.52,494.31 223.05,493.6 221.62,493.16 220.24,492.99 218.95,493.1 217.76,493.49 206.26,498.79 205.19,499.44 204.27,500.35 203.5,501.51 202.91,502.88 202.49,504.46 202.27,506.21 202.24,508.09 202.4,510.09 202.75,512.17 203.28,514.28 203.99,516.4 204.86,518.48 205.88,520.5 207.03,522.41 208.29,524.19 209.64,525.8 211.05,527.22 212.51,528.43 213.98,529.39 215.45,530.1 216.88,530.54 218.26,530.71 219.55,530.6 220.74,530.21" fill="#fff" stroke="#000" stroke-width="1.42"/>
<polygon points="232.24,524.91 233.31,524.26 234.23,523.35 235,522.19 235.59,520.82 236.01,519.24 236.23,517.49 236.26,515.61 236.1,513.61 235.75,511.53 235.22,509.42 234.51,507.3 233.64,505.22 232.62,503.2 231.47,501.29 230.21,499.51 228.86,497.9 227.45,496.48 225.99,495.27 224.52,494.31 223.05,493.6 221.62,493.16 220.24,492.99 218.95,493.1 217.76,493.49 216.69,494.14 215.77,495.05 215,496.21 214.41,497.58 213.99,499.16 213.77,500.91 213.74,502.79 213.9,504.79 214.25,506.87 214.78,508.98 215.49,511.1 216.36,513.18 217.38,515.2 218.53,517.11 219.79,518.89 221.14,520.5 222.55,521.92 224.01,523.13 225.48,524.09 226.95,524.8 228.38,525.24 229.76,525.41 231.05,525.3 232.24,524.91" fill="#fff" stroke="#000" stroke-width="1.42"/>
<polyline points="230.57,503.72 230.07,502.87 229.54,502.04 228.99,501.24 228.42,500.48 227.84,499.74 227.23,499.04 226.62,498.38 225.99,497.76 225.35,497.18 224.71,496.65 224.06,496.16 223.4,495.72 222.75,495.33 222.1,494.99 221.46,494.7 220.82,494.47 220.18,494.29 219.56,494.16 218.96,494.09 218.36,494.07 217.79,494.11 217.23,494.21 216.7,494.36 216.18,494.56 215.7,494.82 215.24,495.13 214.8,495.49 214.4,495.9 214.03,496.36 213.69,496.87 213.38,497.42 213.1,498.02 212.87,498.66 212.67,499.34 212.5,500.05 212.37,500.8 212.29,501.58 212.23,502.39 212.22,503.23 212.25,504.09 212.31,504.97 212.41,505.87 212.55,506.78 212.73,507.71 212.95,508.64 213.2,509.58 213.48,510.51 213.8,511.45" fill="none" stroke="#000" stroke-width="0.94"/>
<polygon points="227.54,516.99 227.81,516.82 228.04,516.59 228.24,516.31 228.39,515.98 228.5,515.61 228.56,515.2 228.58,514.77 228.55,514.31 228.47,513.84 228.34,513.36 228.17,512.88 227.96,512.42 227.72,511.97 227.44,511.55 227.13,511.17 226.8,510.82 226.45,510.52 226.1,510.27 225.73,510.07 225.37,509.94 225.02,509.86 224.68,509.85 224.35,509.9 224.06,510.01 223.79,510.18 223.56,510.41 223.36,510.69 223.21,511.02 223.1,511.39 223.04,511.8 223.02,512.23 223.05,512.69 223.13,513.16 223.26,513.64 223.43,514.12 223.64,514.58 223.88,515.03 224.16,515.45 224.47,515.83 224.8,516.18 225.15,516.48 225.5,516.73 225.87,516.93 226.23,517.06 226.58,517.14 226.92,517.15 227.25,517.1 227.54,516.99" fill="#fff" stroke="#000" stroke-width="1.77"/>
<polygon points="226.69,515.29 226.83,515.2 226.95,515.08 227.05,514.94 227.13,514.77 227.18,514.58 227.22,514.37 227.22,514.15 227.21,513.91 227.17,513.67 227.1,513.43 227.02,513.18 226.91,512.95 226.78,512.72 226.64,512.5 226.48,512.3 226.31,512.13 226.14,511.97 225.95,511.84 225.77,511.74 225.58,511.67 225.4,511.64 225.22,511.63 225.06,511.65 224.91,511.71 224.77,511.8 224.65,511.92 224.55,512.06 224.47,512.23 224.42,512.42 224.38,512.63 224.38,512.85 224.39,513.09 224.43,513.33 224.5,513.57 224.58,513.82 224.69,514.05 224.82,514.28 224.96,514.5 225.12,514.7 225.29,514.87 225.46,515.03 225.65,515.16 225.83,515.26 226.02,515.33 226.2,515.36 226.38,515.37 226.54,515.35 226.69,515.29" fill="#000" stroke="none"/>
<line x1="240.51" y1="524.59" x2="251.69" y2="530.41" stroke="#000" stroke-width="1.06"/>
<line x1="243.59" y1="519.8" x2="248.61" y2="535.2" stroke="#000" stroke-width="1.06"/>
<line x1="248.14" y1="519.51" x2="244.06" y2="535.49" stroke="#000" stroke-width="1.06"/>
<line x1="251.49" y1="523.91" x2="240.71" y2="531.09" stroke="#000" stroke-width="1.06"/>
<ellipse cx="246.1" cy="527.5" rx="3.2" ry="3.8" transform="rotate(30 246.1 527.5)" fill="#000" stroke="none"/>
<ellipse cx="246.3" cy="527.5" rx="1.4" ry="1.8" transform="rotate(30 246.3 527.5)" fill="#fff" stroke="none"/>
<line x1="158.5" y1="522.1" x2="189.7" y2="504.3" stroke="#000" stroke-width="1.18"/>
<line x1="158.5" y1="522.1" x2="207.2" y2="550.4" stroke="#000" stroke-width="1.18"/>
<line x1="207.2" y1="550.4" x2="241" y2="531.6" stroke="#000" stroke-width="1.18"/>
<line x1="188.4" y1="538.7" x2="209.8" y2="527" stroke="#000" stroke-width="1.18"/>
<line x1="176" y1="540.7" x2="181.9" y2="537.4" stroke="#000" stroke-width="1.18"/>
<text class="t" transform="translate(175.5,561) scale(0.95,1)" font-size="21.1" text-anchor="start" fill="#000" >8</text>
<ellipse cx="267.9" cy="539.7" rx="4.4" ry="6" transform="rotate(28 267.9 539.7)" fill="#000" stroke="none"/>
<ellipse cx="268.3" cy="539.6" rx="1.6" ry="2.8" transform="rotate(28 268.3 539.6)" fill="#444" stroke="none"/>
<polygon points="280.78,553.4 281.19,553.57 281.63,553.65 282.11,553.65 282.61,553.56 283.13,553.38 283.65,553.12 284.17,552.77 284.68,552.36 285.17,551.88 285.63,551.34 286.06,550.76 286.44,550.13 286.77,549.48 287.04,548.81 287.25,548.13 287.4,547.47 287.49,546.81 287.5,546.19 287.45,545.61 287.32,545.08 287.14,544.6 286.89,544.19 286.58,543.86 286.22,543.6 277.22,538.6 276.81,538.43 276.37,538.35 275.89,538.35 275.39,538.44 274.87,538.62 274.35,538.88 273.83,539.23 273.32,539.64 272.83,540.12 272.37,540.66 271.94,541.24 271.56,541.87 271.23,542.52 270.96,543.19 270.75,543.87 270.6,544.53 270.51,545.19 270.5,545.81 270.55,546.39 270.68,546.92 270.86,547.4 271.11,547.81 271.42,548.14 271.78,548.4" fill="#000" stroke="#000" stroke-width="0.94"/>
<polygon points="280.78,553.4 281.19,553.57 281.63,553.65 282.11,553.65 282.61,553.56 283.13,553.38 283.65,553.12 284.17,552.77 284.68,552.36 285.17,551.88 285.63,551.34 286.06,550.76 286.44,550.13 286.77,549.48 287.04,548.81 287.25,548.13 287.4,547.47 287.49,546.81 287.5,546.19 287.45,545.61 287.32,545.08 287.14,544.6 286.89,544.19 286.58,543.86 286.22,543.6 285.81,543.43 285.37,543.35 284.89,543.35 284.39,543.44 283.87,543.62 283.35,543.88 282.83,544.23 282.32,544.64 281.83,545.12 281.37,545.66 280.94,546.24 280.56,546.87 280.23,547.52 279.96,548.19 279.75,548.87 279.6,549.53 279.51,550.19 279.5,550.81 279.55,551.39 279.68,551.92 279.86,552.4 280.11,552.81 280.42,553.14 280.78,553.4" fill="#000" stroke="#000" stroke-width="0.94"/>
<ellipse cx="283.8" cy="548.6" rx="2.6" ry="3.8" transform="rotate(30 283.8 548.6)" fill="#fff" stroke="none"/>
<path d="M280.5,541 C284,536 292,537.5 296,545 C297,548 296,550 295,551" fill="none" stroke="#000" stroke-width="1.18"/>
<ellipse cx="294.9" cy="555.3" rx="3.2" ry="4.4" transform="rotate(30 294.9 555.3)" fill="#fff" stroke="#000" stroke-width="2.48"/>
<polygon points="308.9,566.86 309.15,566.98 309.44,567.05 309.74,567.06 310.07,567.02 310.41,566.92 310.75,566.77 311.1,566.57 311.44,566.32 311.77,566.02 312.08,565.69 312.37,565.33 312.63,564.94 312.87,564.53 313.06,564.11 313.22,563.69 313.34,563.26 313.41,562.85 313.44,562.45 313.43,562.07 313.36,561.72 313.26,561.41 313.11,561.14 312.93,560.92 312.7,560.74 307.4,557.44 307.15,557.32 306.86,557.25 306.56,557.24 306.23,557.28 305.89,557.38 305.55,557.53 305.2,557.73 304.86,557.98 304.53,558.28 304.22,558.61 303.93,558.97 303.67,559.36 303.43,559.77 303.24,560.19 303.08,560.61 302.96,561.04 302.89,561.45 302.86,561.85 302.87,562.23 302.94,562.58 303.04,562.89 303.19,563.16 303.37,563.38 303.6,563.56" fill="#fff" stroke="#000" stroke-width="1.3"/>
<polygon points="308.7,566.66 308.95,566.78 309.24,566.85 309.54,566.86 309.87,566.82 310.21,566.72 310.55,566.57 310.9,566.37 311.24,566.12 311.57,565.82 311.88,565.49 312.17,565.13 312.43,564.74 312.67,564.33 312.86,563.91 313.02,563.49 313.14,563.06 313.21,562.65 313.24,562.25 313.23,561.87 313.16,561.52 313.06,561.21 312.91,560.94 312.73,560.72 312.5,560.54 312.25,560.42 311.96,560.35 311.66,560.34 311.33,560.38 310.99,560.48 310.65,560.63 310.3,560.83 309.96,561.08 309.63,561.38 309.32,561.71 309.03,562.07 308.77,562.46 308.53,562.87 308.34,563.29 308.18,563.71 308.06,564.14 307.99,564.55 307.96,564.95 307.97,565.33 308.04,565.68 308.14,565.99 308.29,566.26 308.47,566.48 308.7,566.66" fill="#000" stroke="none"/>
<ellipse cx="324.1" cy="572" rx="7.2" ry="8.3" transform="rotate(30 324.1 572)" fill="#fff" stroke="#000" stroke-width="2.12"/>
<path d="M323.5,565.5 L329.3,566.8 L330.6,572.6 L326,577 L320.3,576.2 L318.2,570.8 Z" fill="#fff" stroke="#000" stroke-width="1.06"/>
<path d="M324.5,572 L329.3,566.8 L330.6,572.6 L326,577 Z" fill="#000" stroke="none"/>
<line x1="319.5" y1="570" x2="323.5" y2="571.5" stroke="#000" stroke-width="0.83"/>
<line x1="321" y1="575" x2="324.5" y2="572.5" stroke="#000" stroke-width="0.83"/>
<text x="324.9" y="556.7" font-size="11" text-anchor="start" fill="#000" >30mm</text>
<line x1="336.6" y1="560.3" x2="329" y2="564.8" stroke="#000" stroke-width="1.06"/>
<line x1="232" y1="562.1" x2="286.6" y2="593.8" stroke="#000" stroke-width="1.18"/>
<line x1="286.6" y1="593.8" x2="316.3" y2="578.2" stroke="#000" stroke-width="1.18"/>
<line x1="232" y1="562.1" x2="240.8" y2="557" stroke="#000" stroke-width="1.18"/>
<text x="240.2" y="555.6" font-size="14" text-anchor="start" fill="#000" >7.1</text>
<line x1="258" y1="547" x2="264" y2="543.8" stroke="#000" stroke-width="1.18"/>
<line x1="241.4" y1="567.3" x2="271.8" y2="550.6" stroke="#000" stroke-width="1.18"/>
<line x1="258.6" y1="575.9" x2="264" y2="572.7" stroke="#000" stroke-width="1.18"/>
<text x="263.2" y="570.6" font-size="14" text-anchor="start" fill="#000" >7.3</text>
<line x1="282" y1="561" x2="290.5" y2="557.1" stroke="#000" stroke-width="1.18"/>
<line x1="275.7" y1="587.6" x2="282.7" y2="583.7" stroke="#000" stroke-width="1.18"/>
<text x="283.2" y="584.6" font-size="14" text-anchor="start" fill="#000" >7.2</text>
<line x1="299" y1="569.5" x2="306.5" y2="565.5" stroke="#000" stroke-width="1.18"/>
<line x1="252.3" y1="582.1" x2="263.2" y2="576" stroke="#000" stroke-width="1.18"/>
<text class="t" transform="translate(241.6,599.8) scale(0.95,1)" font-size="21.1" text-anchor="start" fill="#000" >7</text>
<ellipse cx="156.6" cy="709.6" rx="7" ry="9.1" transform="rotate(20 156.6 709.6)" fill="#fff" stroke="#000" stroke-width="1.42"/>
<line x1="156" y1="700.5" x2="157.5" y2="700" stroke="#000" stroke-width="1.42"/>
<path d="M168,703.7 L177,698.6 L180,697.5 L178.5,700.5 L169.5,706 Z" fill="#fff" stroke="#000" stroke-width="1.06"/>
<ellipse cx="169.3" cy="704.5" rx="1.8" ry="1.9" fill="#000" stroke="none"/>
<polygon points="185.9,682.46 185.34,682.83 184.87,683.33 184.48,683.95 184.19,684.69 183.99,685.54 183.9,686.47 183.91,687.47 184.03,688.53 184.25,689.63 184.56,690.75 184.97,691.86 185.47,692.95 186.04,694.01 186.69,695.01 187.38,695.93 188.13,696.77 188.9,697.5 189.7,698.12 190.49,698.61 191.28,698.96 192.05,699.17 192.79,699.24 193.47,699.16 194.1,698.94 215.6,688.24 216.16,687.87 216.63,687.37 217.02,686.75 217.31,686.01 217.51,685.16 217.6,684.23 217.59,683.23 217.47,682.17 217.25,681.07 216.94,679.95 216.53,678.84 216.03,677.75 215.46,676.69 214.81,675.69 214.12,674.77 213.37,673.93 212.6,673.2 211.8,672.58 211.01,672.09 210.22,671.74 209.45,671.53 208.71,671.46 208.03,671.54 207.4,671.76" fill="#fff" stroke="#000" stroke-width="1.53"/>
<polygon points="185.9,682.46 185.29,682.86 184.76,683.38 184.32,684.03 183.98,684.8 183.74,685.66 183.61,686.62 183.58,687.64 183.67,688.71 183.87,689.82 184.17,690.94 184.57,692.06 185.06,693.16 185.64,694.21 186.29,695.21 187,696.12 187.77,696.95 188.57,697.67 189.4,698.26 190.24,698.73 191.08,699.06 191.9,699.25 192.68,699.29 193.42,699.19 194.1,698.94 194.71,698.54 195.24,698.02 195.68,697.37 196.02,696.6 196.26,695.74 196.39,694.78 196.42,693.76 196.33,692.69 196.13,691.58 195.83,690.46 195.43,689.34 194.94,688.24 194.36,687.19 193.71,686.19 193,685.28 192.23,684.45 191.43,683.73 190.6,683.14 189.76,682.67 188.92,682.34 188.1,682.15 187.32,682.11 186.58,682.21 185.9,682.46" fill="#000" stroke="none"/>
<polygon points="187.46,684.59 187.01,684.88 186.61,685.26 186.28,685.74 186.02,686.29 185.84,686.92 185.73,687.61 185.7,688.35 185.76,689.12 185.89,689.92 186.1,690.73 186.38,691.54 186.74,692.32 187.15,693.08 187.62,693.79 188.14,694.45 188.7,695.03 189.28,695.54 189.89,695.97 190.5,696.3 191.11,696.53 191.71,696.66 192.29,696.68 192.84,696.6 193.34,696.41 193.79,696.12 194.19,695.74 194.52,695.26 194.78,694.71 194.96,694.08 195.07,693.39 195.1,692.65 195.04,691.88 194.91,691.08 194.7,690.27 194.42,689.46 194.06,688.68 193.65,687.92 193.18,687.21 192.66,686.55 192.1,685.97 191.52,685.46 190.91,685.03 190.3,684.7 189.69,684.47 189.09,684.34 188.51,684.32 187.96,684.4 187.46,684.59" fill="#fff" stroke="none"/>
<polygon points="188.55,686.28 188.23,686.48 187.96,686.75 187.73,687.08 187.55,687.47 187.42,687.91 187.35,688.39 187.33,688.9 187.36,689.44 187.46,690 187.6,690.56 187.8,691.12 188.05,691.67 188.34,692.2 188.66,692.69 189.03,693.15 189.41,693.56 189.82,693.92 190.24,694.21 190.67,694.44 191.1,694.6 191.52,694.69 191.92,694.71 192.3,694.65 192.65,694.52 192.97,694.32 193.24,694.05 193.47,693.72 193.65,693.33 193.78,692.89 193.85,692.41 193.87,691.9 193.84,691.36 193.74,690.8 193.6,690.24 193.4,689.68 193.15,689.13 192.86,688.6 192.54,688.11 192.17,687.65 191.79,687.24 191.38,686.88 190.96,686.59 190.53,686.36 190.1,686.2 189.68,686.11 189.28,686.09 188.9,686.15 188.55,686.28" fill="#111" stroke="none"/>
<ellipse cx="203.7" cy="685.5" rx="3.3" ry="4.4" transform="rotate(20 203.7 685.5)" fill="#fff" stroke="#000" stroke-width="1.42"/>
<ellipse cx="214" cy="680.5" rx="0.8" ry="0.8" fill="#000" stroke="none"/>
<polygon points="235.2,670.91 235.53,670.67 235.81,670.36 236.03,669.97 236.19,669.51 236.28,668.99 236.32,668.42 236.28,667.81 236.19,667.17 236.03,666.51 235.81,665.84 235.53,665.17 235.2,664.52 234.82,663.89 234.41,663.3 233.96,662.75 233.49,662.26 233,661.84 232.5,661.48 232,661.2 231.51,661.01 231.04,660.9 230.59,660.88 230.18,660.94 229.8,661.09 219.8,666.59 219.47,666.83 219.19,667.14 218.97,667.53 218.81,667.99 218.72,668.51 218.68,669.08 218.72,669.69 218.81,670.33 218.97,670.99 219.19,671.66 219.47,672.33 219.8,672.98 220.18,673.61 220.59,674.2 221.04,674.75 221.51,675.24 222,675.66 222.5,676.02 223,676.3 223.49,676.49 223.96,676.6 224.41,676.62 224.82,676.56 225.2,676.41" fill="#000" stroke="#000" stroke-width="0.94"/>
<polygon points="235.2,670.91 235.53,670.67 235.81,670.36 236.03,669.97 236.19,669.51 236.28,668.99 236.32,668.42 236.28,667.81 236.19,667.17 236.03,666.51 235.81,665.84 235.53,665.17 235.2,664.52 234.82,663.89 234.41,663.3 233.96,662.75 233.49,662.26 233,661.84 232.5,661.48 232,661.2 231.51,661.01 231.04,660.9 230.59,660.88 230.18,660.94 229.8,661.09 229.47,661.33 229.19,661.64 228.97,662.03 228.81,662.49 228.72,663.01 228.68,663.58 228.72,664.19 228.81,664.83 228.97,665.49 229.19,666.16 229.47,666.83 229.8,667.48 230.18,668.11 230.59,668.7 231.04,669.25 231.51,669.74 232,670.16 232.5,670.52 233,670.8 233.49,670.99 233.96,671.1 234.41,671.12 234.82,671.06 235.2,670.91" fill="#000" stroke="#000" stroke-width="0.94"/>
<polygon points="234.23,669.15 234.47,668.99 234.67,668.78 234.83,668.52 234.95,668.21 235.03,667.87 235.07,667.49 235.06,667.09 235.01,666.68 234.91,666.25 234.78,665.81 234.6,665.38 234.39,664.96 234.15,664.56 233.88,664.18 233.58,663.83 233.27,663.52 232.95,663.25 232.61,663.03 232.28,662.86 231.94,662.75 231.62,662.69 231.31,662.68 231.03,662.74 230.77,662.85 230.53,663.01 230.33,663.22 230.17,663.48 230.05,663.79 229.97,664.13 229.93,664.51 229.94,664.91 229.99,665.32 230.09,665.75 230.22,666.19 230.4,666.62 230.61,667.04 230.85,667.44 231.12,667.82 231.42,668.17 231.73,668.48 232.05,668.75 232.39,668.97 232.72,669.14 233.06,669.25 233.38,669.31 233.69,669.32 233.97,669.26 234.23,669.15" fill="#fff" stroke="none"/>
<polygon points="233.66,667.65 233.79,667.56 233.9,667.44 233.99,667.3 234.06,667.13 234.1,666.94 234.13,666.73 234.12,666.51 234.09,666.28 234.04,666.04 233.97,665.79 233.87,665.56 233.75,665.32 233.62,665.1 233.47,664.89 233.3,664.7 233.13,664.52 232.95,664.37 232.76,664.25 232.58,664.16 232.39,664.09 232.21,664.06 232.04,664.06 231.88,664.09 231.74,664.15 231.61,664.24 231.5,664.36 231.41,664.5 231.34,664.67 231.3,664.86 231.27,665.07 231.28,665.29 231.31,665.52 231.36,665.76 231.43,666.01 231.53,666.24 231.65,666.48 231.78,666.7 231.93,666.91 232.1,667.1 232.27,667.28 232.45,667.43 232.64,667.55 232.82,667.64 233.01,667.71 233.19,667.74 233.36,667.74 233.52,667.71 233.66,667.65" fill="#000" stroke="none"/>
<polygon points="257.88,657.01 258.18,656.87 258.45,656.66 258.69,656.38 258.9,656.02 259.06,655.59 259.17,655.11 259.25,654.58 259.27,654.01 259.25,653.4 259.18,652.78 259.06,652.14 258.9,651.51 258.7,650.89 258.46,650.29 258.19,649.72 257.89,649.2 257.57,648.73 257.22,648.31 256.87,647.97 256.51,647.69 256.15,647.5 255.79,647.38 255.45,647.35 255.12,647.39 243.62,650.69 243.32,650.83 243.05,651.04 242.81,651.32 242.6,651.68 242.44,652.11 242.33,652.59 242.25,653.12 242.23,653.69 242.25,654.3 242.32,654.92 242.44,655.56 242.6,656.19 242.8,656.81 243.04,657.41 243.31,657.98 243.61,658.5 243.93,658.97 244.28,659.39 244.63,659.73 244.99,660.01 245.35,660.2 245.71,660.32 246.05,660.35 246.38,660.31" fill="#fff" stroke="#000" stroke-width="1.3"/>
<polygon points="258.84,656.84 259.15,656.64 259.42,656.35 259.64,656 259.8,655.58 259.91,655.1 259.96,654.57 259.95,654 259.88,653.41 259.76,652.79 259.57,652.16 259.34,651.53 259.05,650.91 258.73,650.32 258.36,649.75 257.96,649.23 257.54,648.76 257.1,648.35 256.65,648.01 256.2,647.73 255.75,647.54 255.31,647.42 254.9,647.38 254.51,647.43 254.16,647.56 253.85,647.76 253.58,648.05 253.36,648.4 253.2,648.82 253.09,649.3 253.04,649.83 253.05,650.4 253.12,650.99 253.24,651.61 253.43,652.24 253.66,652.87 253.95,653.49 254.27,654.08 254.64,654.65 255.04,655.17 255.46,655.64 255.9,656.05 256.35,656.39 256.8,656.67 257.25,656.86 257.69,656.98 258.1,657.02 258.49,656.97 258.84,656.84" fill="#fff" stroke="#000" stroke-width="1.42"/>
<polygon points="260.22,658.79 260.68,658.48 261.07,658.07 261.39,657.55 261.63,656.94 261.79,656.24 261.86,655.47 261.84,654.64 261.74,653.76 261.56,652.86 261.29,651.94 260.95,651.02 260.53,650.12 260.05,649.25 259.52,648.43 258.94,647.66 258.32,646.98 257.68,646.38 257.02,645.87 256.36,645.47 255.7,645.18 255.07,645.01 254.46,644.96 253.89,645.03 253.38,645.21 252.92,645.52 252.53,645.93 252.21,646.45 251.97,647.06 251.81,647.76 251.74,648.53 251.76,649.36 251.86,650.24 252.04,651.14 252.31,652.06 252.65,652.98 253.07,653.88 253.55,654.75 254.08,655.57 254.66,656.34 255.28,657.02 255.92,657.62 256.58,658.13 257.24,658.53 257.9,658.82 258.53,658.99 259.14,659.04 259.71,658.97 260.22,658.79" fill="none" stroke="#000" stroke-width="1.42"/>
<path d="M244,653 L246.5,652 L247.5,655 L245.5,657 Z" fill="#000" stroke="none"/>
<path d="M250,659 L251.5,662 L253,661" fill="none" stroke="#000" stroke-width="1.18"/>
<path d="M266,646 L267.5,642.5 L271.5,639.5 L273.5,633.5 L279,630.5 L283.5,628 L287.5,626.2 L291,626.3 L294.5,629.3 L295.6,634 L294.3,638.8 L288.5,642.2 L284,644.6 L278,646.6 L272.5,648.2 L268,648.6 Z" fill="#000" stroke="#000" stroke-width="1.06"/>
<path d="M285.5,628.5 Q288.15000000000003,635.0 288.2,641.5" fill="none" stroke="#fff" stroke-width="0.83"/>
<path d="M288,627.4 Q290.7,633.9 290.8,640.4" fill="none" stroke="#fff" stroke-width="0.83"/>
<path d="M290.6,627.2 Q292.90000000000003,632.85 292.6,638.5" fill="none" stroke="#fff" stroke-width="0.83"/>
<path d="M276.3,638.3 Q277.8,640 278.5,643" fill="none" stroke="#fff" stroke-width="0.94"/>
<ellipse cx="272.5" cy="639.5" rx="0.6" ry="0.6" fill="#fff" stroke="none"/>
<polygon points="299.17,618.96 298.76,619.25 298.42,619.64 298.15,620.12 297.95,620.68 297.83,621.32 297.8,622.02 297.84,622.77 297.96,623.56 298.15,624.38 298.43,625.2 298.77,626.03 299.18,626.83 299.64,627.6 300.15,628.33 300.7,629 301.29,629.61 301.89,630.13 302.5,630.57 303.12,630.91 303.72,631.15 304.3,631.28 304.86,631.31 305.37,631.23 305.83,631.04 330.33,617.54 330.74,617.25 331.08,616.86 331.35,616.38 331.55,615.82 331.67,615.18 331.7,614.48 331.66,613.73 331.54,612.94 331.35,612.12 331.07,611.3 330.73,610.47 330.32,609.67 329.86,608.9 329.35,608.17 328.8,607.5 328.21,606.89 327.61,606.37 327,605.93 326.38,605.59 325.78,605.35 325.2,605.22 324.64,605.19 324.13,605.27 323.67,605.46" fill="#fff" stroke="#000" stroke-width="1.42"/>
<polygon points="330.33,617.54 330.74,617.25 331.08,616.86 331.35,616.38 331.55,615.82 331.67,615.18 331.7,614.48 331.66,613.73 331.54,612.94 331.35,612.12 331.07,611.3 330.73,610.47 330.32,609.67 329.86,608.9 329.35,608.17 328.8,607.5 328.21,606.89 327.61,606.37 327,605.93 326.38,605.59 325.78,605.35 325.2,605.22 324.64,605.19 324.13,605.27 323.67,605.46 318.47,608.26 318.93,608.07 319.44,607.99 320,608.02 320.58,608.15 321.18,608.39 321.8,608.73 322.41,609.17 323.01,609.69 323.6,610.3 324.15,610.97 324.66,611.7 325.12,612.47 325.53,613.27 325.87,614.1 326.15,614.92 326.34,615.74 326.46,616.53 326.5,617.28 326.47,617.98 326.35,618.62 326.15,619.18 325.88,619.66 325.54,620.05 325.13,620.34" fill="#000" stroke="none"/>
<polyline points="330.33,617.54 330.54,617.41 330.74,617.25 330.91,617.07 331.08,616.86 331.22,616.63 331.35,616.38 331.46,616.11 331.55,615.82 331.62,615.51 331.67,615.18 331.7,614.84 331.7,614.48 331.69,614.11 331.66,613.73 331.61,613.33 331.54,612.94 331.45,612.53 331.35,612.12 331.22,611.71 331.07,611.3 330.91,610.88 330.73,610.47 330.53,610.07 330.32,609.67 330.1,609.28 329.86,608.9 329.61,608.52 329.35,608.17 329.08,607.82 328.8,607.5 328.51,607.18 328.21,606.89 327.91,606.62 327.61,606.37 327.3,606.14 327,605.93 326.69,605.75 326.38,605.59 326.08,605.46 325.78,605.35 325.48,605.27 325.2,605.22 324.92,605.19 324.64,605.19 324.38,605.22 324.13,605.27 323.89,605.35 323.67,605.46" fill="#000" stroke="#000" stroke-width="1.18"/>
<polygon points="308.83,629.44 309.24,629.15 309.58,628.76 309.85,628.28 310.05,627.72 310.17,627.08 310.2,626.38 310.16,625.63 310.04,624.84 309.85,624.02 309.57,623.2 309.23,622.37 308.82,621.57 308.36,620.8 307.85,620.07 307.3,619.4 306.71,618.79 306.11,618.27 305.5,617.83 304.88,617.49 304.28,617.25 303.7,617.12 303.14,617.09 302.63,617.17 302.17,617.36 305.67,615.46 306.13,615.27 306.64,615.19 307.2,615.22 307.78,615.35 308.38,615.59 309,615.93 309.61,616.37 310.21,616.89 310.8,617.5 311.35,618.17 311.86,618.9 312.32,619.67 312.73,620.47 313.07,621.3 313.35,622.12 313.54,622.94 313.66,623.73 313.7,624.48 313.67,625.18 313.55,625.82 313.35,626.38 313.08,626.86 312.74,627.25 312.33,627.54" fill="#000" stroke="none"/>
<polygon points="314.33,626.44 314.74,626.15 315.08,625.76 315.35,625.28 315.55,624.72 315.67,624.08 315.7,623.38 315.66,622.63 315.54,621.84 315.35,621.02 315.07,620.2 314.73,619.37 314.32,618.57 313.86,617.8 313.35,617.07 312.8,616.4 312.21,615.79 311.61,615.27 311,614.83 310.38,614.49 309.78,614.25 309.2,614.12 308.64,614.09 308.13,614.17 307.67,614.36 310.47,612.86 310.93,612.67 311.44,612.59 312,612.62 312.58,612.75 313.18,612.99 313.8,613.33 314.41,613.77 315.01,614.29 315.6,614.9 316.15,615.57 316.66,616.3 317.12,617.07 317.53,617.87 317.87,618.7 318.15,619.52 318.34,620.34 318.46,621.13 318.5,621.88 318.47,622.58 318.35,623.22 318.15,623.78 317.88,624.26 317.54,624.65 317.13,624.94" fill="#000" stroke="none"/>
<polygon points="299.17,618.96 298.76,619.25 298.42,619.64 298.15,620.12 297.95,620.68 297.83,621.32 297.8,622.02 297.84,622.77 297.96,623.56 298.15,624.38 298.43,625.2 298.77,626.03 299.18,626.83 299.64,627.6 300.15,628.33 300.7,629 301.29,629.61 301.89,630.13 302.5,630.57 303.12,630.91 303.72,631.15 304.3,631.28 304.86,631.31 305.37,631.23 305.83,631.04 306.24,630.75 306.58,630.36 306.85,629.88 307.05,629.32 307.17,628.68 307.2,627.98 307.16,627.23 307.04,626.44 306.85,625.62 306.57,624.8 306.23,623.97 305.82,623.17 305.36,622.4 304.85,621.67 304.3,621 303.71,620.39 303.11,619.87 302.5,619.43 301.88,619.09 301.28,618.85 300.7,618.72 300.14,618.69 299.63,618.77 299.17,618.96" fill="#000" stroke="none"/>
<polygon points="300.39,620.42 300.09,620.63 299.85,620.91 299.65,621.26 299.51,621.67 299.42,622.13 299.39,622.64 299.42,623.19 299.51,623.76 299.65,624.35 299.85,624.95 300.1,625.54 300.39,626.13 300.73,626.69 301.1,627.22 301.5,627.7 301.92,628.14 302.36,628.52 302.8,628.84 303.25,629.08 303.69,629.26 304.11,629.35 304.51,629.37 304.88,629.31 305.21,629.18 305.51,628.97 305.75,628.69 305.95,628.34 306.09,627.93 306.18,627.47 306.21,626.96 306.18,626.41 306.09,625.84 305.95,625.25 305.75,624.65 305.5,624.06 305.21,623.47 304.87,622.91 304.5,622.38 304.1,621.9 303.68,621.46 303.24,621.08 302.8,620.76 302.35,620.52 301.91,620.34 301.49,620.25 301.09,620.23 300.72,620.29 300.39,620.42" fill="#fff" stroke="none"/>
<polygon points="301.46,621.62 301.26,621.77 301.09,621.96 300.96,622.19 300.86,622.47 300.8,622.79 300.78,623.13 300.8,623.5 300.86,623.89 300.96,624.29 301.09,624.7 301.26,625.11 301.46,625.5 301.69,625.88 301.94,626.24 302.21,626.57 302.5,626.87 302.8,627.13 303.1,627.34 303.4,627.51 303.7,627.63 303.99,627.7 304.26,627.71 304.51,627.67 304.74,627.58 304.94,627.43 305.11,627.24 305.24,627.01 305.34,626.73 305.4,626.41 305.42,626.07 305.4,625.7 305.34,625.31 305.24,624.91 305.11,624.5 304.94,624.09 304.74,623.7 304.51,623.32 304.26,622.96 303.99,622.63 303.7,622.33 303.4,622.07 303.1,621.86 302.8,621.69 302.5,621.57 302.21,621.5 301.94,621.49 301.69,621.53 301.46,621.62" fill="#000" stroke="none"/>
<polygon points="302.63,622.55 302.53,622.63 302.44,622.73 302.37,622.87 302.33,623.02 302.3,623.2 302.3,623.4 302.32,623.62 302.36,623.84 302.42,624.08 302.5,624.31 302.61,624.55 302.72,624.78 302.86,625.01 303,625.22 303.16,625.42 303.32,625.59 303.49,625.75 303.66,625.88 303.83,625.98 304,626.06 304.16,626.1 304.31,626.12 304.44,626.1 304.57,626.05 304.67,625.97 304.76,625.87 304.83,625.73 304.87,625.58 304.9,625.4 304.9,625.2 304.88,624.98 304.84,624.76 304.78,624.52 304.7,624.29 304.59,624.05 304.48,623.82 304.34,623.59 304.2,623.38 304.04,623.18 303.88,623.01 303.71,622.85 303.54,622.72 303.37,622.62 303.2,622.54 303.04,622.5 302.89,622.48 302.76,622.5 302.63,622.55" fill="#fff" stroke="none"/>
<line x1="153" y1="756.4" x2="240" y2="706.3" stroke="#000" stroke-width="1.18"/>
<line x1="240" y1="706.3" x2="254.4" y2="698" stroke="#000" stroke-width="1.18"/>
<line x1="153" y1="719.5" x2="153" y2="726" stroke="#000" stroke-width="1.18"/>
<line x1="153" y1="741" x2="153" y2="756.4" stroke="#000" stroke-width="1.18"/>
<text x="144.7" y="737.8" font-size="14.6" text-anchor="start" fill="#000" >1.1</text>
<line x1="174.8" y1="703.7" x2="174.8" y2="743.4" stroke="#444" stroke-width="1.18"/>
<line x1="203.5" y1="696.5" x2="203.5" y2="742.7" stroke="#444" stroke-width="1.18"/>
<line x1="231.7" y1="675" x2="231.7" y2="710.9" stroke="#444" stroke-width="1.18"/>
<line x1="254.6" y1="662.2" x2="254.6" y2="698" stroke="#444" stroke-width="1.18"/>
<text class="t" transform="translate(197.5,758.7) scale(0.95,1)" font-size="21.1" text-anchor="start" fill="#000" >1</text>
<line x1="288.4" y1="643" x2="288.4" y2="681.6" stroke="#333" stroke-width="1.18"/>
<text class="t" transform="translate(283,699.2) scale(0.95,1)" font-size="21.1" text-anchor="start" fill="#000" >6</text>
<line x1="319.8" y1="623.6" x2="319.8" y2="660.8" stroke="#333" stroke-width="1.18"/>
<text class="t" transform="translate(313,677.7) scale(0.95,1)" font-size="21.1" text-anchor="start" fill="#000" >5</text>
<line x1="434.15" y1="547" x2="441.85" y2="547" stroke="#000" stroke-width="1.06"/>
<line x1="435.28" y1="543.11" x2="440.72" y2="550.89" stroke="#000" stroke-width="1.06"/>
<line x1="438" y1="541.5" x2="438" y2="552.5" stroke="#000" stroke-width="1.06"/>
<line x1="440.72" y1="543.11" x2="435.28" y2="550.89" stroke="#000" stroke-width="1.06"/>
<ellipse cx="438" cy="547" rx="2.2" ry="2.8" transform="rotate(-30 438 547)" fill="#000" stroke="none"/>
<polygon points="443.6,537.54 443.32,537.75 443.09,538.03 442.91,538.37 442.78,538.76 442.7,539.21 442.69,539.7 442.72,540.22 442.82,540.77 442.97,541.33 443.17,541.9 443.42,542.47 443.71,543.02 444.05,543.55 444.41,544.05 444.81,544.51 445.22,544.92 445.65,545.28 446.08,545.57 446.51,545.8 446.94,545.96 447.34,546.05 447.73,546.06 448.08,545.99 448.4,545.86 457.4,540.66 457.68,540.45 457.91,540.17 458.09,539.83 458.22,539.44 458.3,538.99 458.31,538.5 458.28,537.98 458.18,537.43 458.03,536.87 457.83,536.3 457.58,535.73 457.29,535.18 456.95,534.65 456.59,534.15 456.19,533.69 455.78,533.28 455.35,532.92 454.92,532.63 454.49,532.4 454.06,532.24 453.66,532.15 453.27,532.14 452.92,532.21 452.6,532.34" fill="#000" stroke="#000" stroke-width="0.94"/>
<polygon points="443.6,537.54 443.29,537.77 443.04,538.06 442.83,538.41 442.67,538.82 442.58,539.28 442.54,539.78 442.56,540.31 442.64,540.87 442.78,541.44 442.97,542.02 443.21,542.59 443.51,543.14 443.84,543.67 444.21,544.17 444.62,544.62 445.04,545.03 445.48,545.37 445.93,545.66 446.39,545.87 446.83,546.02 447.26,546.09 447.67,546.09 448.06,546.01 448.4,545.86 448.71,545.63 448.96,545.34 449.17,544.99 449.33,544.58 449.42,544.12 449.46,543.62 449.44,543.09 449.36,542.53 449.22,541.96 449.03,541.38 448.79,540.81 448.49,540.26 448.16,539.73 447.79,539.23 447.38,538.78 446.96,538.37 446.52,538.03 446.07,537.74 445.61,537.53 445.17,537.38 444.74,537.31 444.33,537.31 443.94,537.39 443.6,537.54" fill="#000" stroke="#000" stroke-width="0.94"/>
<polygon points="445,539.52 444.85,539.63 444.72,539.78 444.61,539.96 444.54,540.16 444.49,540.39 444.47,540.64 444.48,540.91 444.52,541.18 444.59,541.47 444.68,541.76 444.81,542.04 444.95,542.32 445.12,542.59 445.31,542.83 445.51,543.06 445.72,543.26 445.94,543.44 446.17,543.58 446.39,543.69 446.62,543.76 446.83,543.8 447.04,543.79 447.23,543.75 447.4,543.68 447.55,543.57 447.68,543.42 447.79,543.24 447.86,543.04 447.91,542.81 447.93,542.56 447.92,542.29 447.88,542.02 447.81,541.73 447.72,541.44 447.59,541.16 447.45,540.88 447.28,540.61 447.09,540.37 446.89,540.14 446.68,539.94 446.46,539.76 446.23,539.62 446.01,539.51 445.78,539.44 445.57,539.4 445.36,539.41 445.17,539.45 445,539.52" fill="#fff" stroke="none"/>
<line x1="449.5" y1="536" x2="451.5" y2="542.5" stroke="#fff" stroke-width="1.53"/>
<line x1="451.8" y1="535" x2="453.5" y2="541" stroke="#fff" stroke-width="1.18"/>
<line x1="438" y1="553.5" x2="438" y2="577.8" stroke="#000" stroke-width="1.18"/>
<line x1="438" y1="577.8" x2="455.6" y2="568" stroke="#000" stroke-width="1.18"/>
<line x1="455.6" y1="543.8" x2="455.6" y2="568" stroke="#000" stroke-width="1.18"/>
<line x1="447.8" y1="573" x2="447.8" y2="588" stroke="#000" stroke-width="1.18"/>
<text class="t" transform="translate(441,606.7) scale(0.95,1)" font-size="21.1" text-anchor="start" fill="#000" >4</text>
<path d="M495,512 L501,508.5 Q505,507.5 505,512 L504.5,516.5 L497,521 Z" fill="#000" stroke="#000" stroke-width="0.94"/>
<path d="M487.4,512.6 L493,509.8 L499,511 L500,518 L495.2,523.6 Z" fill="#fff" stroke="#000" stroke-width="1.18"/>
<line x1="494" y1="511" x2="496.5" y2="521.5" stroke="#000" stroke-width="1.06"/>
<polygon points="467.68,521.88 467.23,522.19 466.86,522.61 466.55,523.12 466.33,523.73 466.19,524.43 466.13,525.19 466.17,526.01 466.29,526.87 466.49,527.76 466.77,528.66 467.13,529.56 467.56,530.44 468.05,531.28 468.59,532.08 469.18,532.82 469.81,533.49 470.45,534.07 471.12,534.55 471.78,534.93 472.43,535.2 473.06,535.36 473.66,535.4 474.22,535.32 474.72,535.12 493.52,525.12 493.97,524.81 494.34,524.39 494.65,523.88 494.87,523.27 495.01,522.57 495.07,521.81 495.03,520.99 494.91,520.13 494.71,519.24 494.43,518.34 494.07,517.44 493.64,516.56 493.15,515.72 492.61,514.92 492.02,514.18 491.39,513.51 490.75,512.93 490.08,512.45 489.42,512.07 488.77,511.8 488.14,511.64 487.54,511.6 486.98,511.68 486.48,511.88" fill="#000" stroke="#000" stroke-width="0.94"/>
<polygon points="467.77,522.06 467.28,522.39 466.85,522.82 466.5,523.36 466.23,523.98 466.05,524.68 465.95,525.45 465.94,526.26 466.03,527.12 466.2,528 466.45,528.88 466.79,529.77 467.2,530.63 467.69,531.45 468.23,532.22 468.82,532.93 469.45,533.56 470.12,534.11 470.8,534.56 471.49,534.91 472.17,535.14 472.84,535.27 473.48,535.28 474.08,535.17 474.63,534.94 475.12,534.61 475.55,534.18 475.9,533.64 476.17,533.02 476.35,532.32 476.45,531.55 476.46,530.74 476.37,529.88 476.2,529 475.95,528.12 475.61,527.23 475.2,526.37 474.71,525.55 474.17,524.78 473.58,524.07 472.95,523.44 472.28,522.89 471.6,522.44 470.91,522.09 470.23,521.86 469.56,521.73 468.92,521.72 468.32,521.83 467.77,522.06" fill="#000" stroke="#000" stroke-width="0.94"/>
<polygon points="468.53,523.19 468.13,523.46 467.79,523.81 467.5,524.24 467.29,524.75 467.14,525.31 467.06,525.93 467.05,526.59 467.12,527.28 467.26,527.99 467.46,528.71 467.74,529.42 468.07,530.12 468.46,530.78 468.9,531.41 469.38,531.98 469.89,532.49 470.42,532.93 470.98,533.3 471.53,533.58 472.08,533.77 472.62,533.87 473.14,533.88 473.63,533.79 474.07,533.61 474.47,533.34 474.81,532.99 475.1,532.56 475.31,532.05 475.46,531.49 475.54,530.87 475.55,530.21 475.48,529.52 475.34,528.81 475.14,528.09 474.86,527.38 474.53,526.68 474.14,526.02 473.7,525.39 473.22,524.82 472.71,524.31 472.18,523.87 471.62,523.5 471.07,523.22 470.52,523.03 469.98,522.93 469.46,522.92 468.97,523.01 468.53,523.19" fill="#fff" stroke="none"/>
<path d="M468.8,526.6 L472.2,524.6 L474.2,527.8 L473.5,531 L470.3,532.6 L468.4,529.8 Z" fill="#000" stroke="none"/>
<path d="M470,527.3 L472.2,526.1 L473.1,528.3 L472.6,530.3 L470.6,531.2 L469.5,529.5 Z" fill="#fff" stroke="none"/>
<polyline points="481.21,531.44 481.64,531.14 482.01,530.74 482.3,530.23 482.52,529.64 482.66,528.97 482.71,528.22 482.68,527.43 482.56,526.59 482.37,525.72 482.09,524.85 481.74,523.97 481.32,523.11 480.85,522.29 480.32,521.51 479.74,520.79 479.14,520.14 478.51,519.58 477.86,519.11 477.22,518.74 476.58,518.48 475.97,518.32 475.39,518.29 474.84,518.36 474.35,518.56" fill="none" stroke="#777" stroke-width="0.59"/>
<polyline points="484.03,529.94 484.46,529.64 484.83,529.24 485.12,528.73 485.34,528.14 485.48,527.47 485.53,526.72 485.5,525.93 485.38,525.09 485.19,524.22 484.91,523.35 484.56,522.47 484.14,521.61 483.67,520.79 483.14,520.01 482.56,519.29 481.96,518.64 481.33,518.08 480.68,517.61 480.04,517.24 479.4,516.98 478.79,516.82 478.21,516.79 477.66,516.86 477.17,517.06" fill="none" stroke="#777" stroke-width="0.59"/>
<polyline points="486.85,528.44 487.28,528.14 487.65,527.74 487.94,527.23 488.16,526.64 488.3,525.97 488.35,525.22 488.32,524.43 488.2,523.59 488.01,522.72 487.73,521.85 487.38,520.97 486.96,520.11 486.49,519.29 485.96,518.51 485.38,517.79 484.78,517.14 484.15,516.58 483.5,516.11 482.86,515.74 482.22,515.48 481.61,515.32 481.03,515.29 480.48,515.36 479.99,515.56" fill="none" stroke="#777" stroke-width="0.59"/>
<polyline points="489.67,526.94 490.1,526.64 490.47,526.24 490.76,525.73 490.98,525.14 491.12,524.47 491.17,523.72 491.14,522.93 491.02,522.09 490.83,521.22 490.55,520.35 490.2,519.47 489.78,518.61 489.31,517.79 488.78,517.01 488.2,516.29 487.6,515.64 486.97,515.08 486.32,514.61 485.68,514.24 485.04,513.98 484.43,513.82 483.85,513.79 483.3,513.86 482.81,514.06" fill="none" stroke="#777" stroke-width="0.59"/>
<line x1="489.8" y1="527.4" x2="489.8" y2="565.9" stroke="#333" stroke-width="1.18"/>
<text class="t" transform="translate(484,584.2) scale(0.95,1)" font-size="21.1" text-anchor="start" fill="#000" >3</text>
<polygon points="513.96,495.28 513.49,495.62 513.09,496.07 512.77,496.63 512.54,497.28 512.4,498.02 512.35,498.83 512.4,499.71 512.54,500.62 512.76,501.57 513.08,502.53 513.47,503.48 513.94,504.41 514.48,505.31 515.07,506.16 515.71,506.94 516.38,507.64 517.08,508.25 517.79,508.76 518.5,509.15 519.2,509.43 519.87,509.59 520.51,509.62 521.11,509.53 521.64,509.32 525.84,507.02 526.31,506.68 526.71,506.23 527.03,505.67 527.26,505.02 527.4,504.28 527.45,503.47 527.4,502.59 527.26,501.68 527.04,500.73 526.72,499.77 526.33,498.82 525.86,497.89 525.32,496.99 524.73,496.14 524.09,495.36 523.42,494.66 522.72,494.05 522.01,493.54 521.3,493.15 520.6,492.87 519.93,492.71 519.29,492.68 518.69,492.77 518.16,492.98" fill="#000" stroke="#000" stroke-width="0.94"/>
<polygon points="513.96,495.28 513.44,495.64 513,496.12 512.64,496.7 512.37,497.38 512.19,498.14 512.11,498.97 512.12,499.86 512.23,500.79 512.44,501.74 512.74,502.71 513.12,503.67 513.59,504.61 514.13,505.5 514.73,506.34 515.38,507.12 516.08,507.81 516.8,508.4 517.54,508.89 518.29,509.27 519.02,509.53 519.74,509.66 520.42,509.67 521.06,509.56 521.64,509.32 522.16,508.96 522.6,508.48 522.96,507.9 523.23,507.22 523.41,506.46 523.49,505.63 523.48,504.74 523.37,503.81 523.16,502.86 522.86,501.89 522.48,500.93 522.01,499.99 521.47,499.1 520.87,498.26 520.22,497.48 519.52,496.79 518.8,496.2 518.06,495.71 517.31,495.33 516.58,495.07 515.86,494.94 515.18,494.93 514.54,495.04 513.96,495.28" fill="#000" stroke="none"/>
<polygon points="515.12,496.94 514.73,497.21 514.4,497.56 514.13,498 513.93,498.51 513.79,499.08 513.73,499.7 513.74,500.37 513.82,501.07 513.98,501.78 514.2,502.51 514.49,503.23 514.84,503.93 515.25,504.6 515.7,505.23 516.19,505.81 516.71,506.33 517.25,506.78 517.81,507.14 518.36,507.43 518.92,507.62 519.45,507.72 519.97,507.73 520.45,507.64 520.88,507.46 521.27,507.19 521.6,506.84 521.87,506.4 522.07,505.89 522.21,505.32 522.27,504.7 522.26,504.03 522.18,503.33 522.02,502.62 521.8,501.89 521.51,501.17 521.16,500.47 520.75,499.8 520.3,499.17 519.81,498.59 519.29,498.07 518.75,497.62 518.19,497.26 517.64,496.97 517.08,496.78 516.55,496.68 516.03,496.67 515.55,496.76 515.12,496.94" fill="#fff" stroke="none"/>
<line x1="514.5" y1="503" x2="521" y2="501.5" stroke="#000" stroke-width="0.83"/>
<text x="496.3" y="480.4" font-size="11" text-anchor="start" fill="#000" >34mm</text>
<line x1="519.3" y1="482.5" x2="519.3" y2="493" stroke="#000" stroke-width="1.06"/>
<line x1="522" y1="508.7" x2="522" y2="542" stroke="#333" stroke-width="1.18"/>
<text class="t" transform="translate(516,560) scale(0.95,1)" font-size="21.1" text-anchor="start" fill="#000" >2</text>
<polygon points="537.43,478.01 536.84,478.43 536.34,478.99 535.94,479.69 535.65,480.5 535.47,481.43 535.41,482.44 535.46,483.53 535.63,484.68 535.91,485.86 536.3,487.06 536.79,488.26 537.37,489.43 538.03,490.55 538.77,491.61 539.56,492.59 540.4,493.47 541.27,494.23 542.16,494.87 543.05,495.37 543.92,495.72 544.76,495.92 545.56,495.97 546.3,495.85 546.97,495.59 567.77,484.29 568.36,483.87 568.86,483.31 569.26,482.61 569.55,481.8 569.73,480.87 569.79,479.86 569.74,478.77 569.57,477.62 569.29,476.44 568.9,475.24 568.41,474.04 567.83,472.87 567.17,471.75 566.43,470.69 565.64,469.71 564.8,468.83 563.93,468.07 563.04,467.43 562.15,466.93 561.28,466.58 560.44,466.38 559.64,466.33 558.9,466.45 558.23,466.71" fill="#fff" stroke="#000" stroke-width="1.42"/>
<polygon points="537.43,478.01 536.8,478.45 536.27,479.03 535.84,479.74 535.52,480.57 535.31,481.51 535.22,482.54 535.25,483.65 535.4,484.8 535.66,486 536.04,487.2 536.52,488.4 537.1,489.57 537.77,490.69 538.51,491.75 539.32,492.72 540.17,493.59 541.06,494.35 541.97,494.97 542.88,495.46 543.79,495.79 544.66,495.98 545.49,496 546.27,495.87 546.97,495.59 547.6,495.15 548.13,494.57 548.56,493.86 548.88,493.03 549.09,492.09 549.18,491.06 549.15,489.95 549,488.8 548.74,487.6 548.36,486.4 547.88,485.2 547.3,484.03 546.63,482.91 545.89,481.85 545.08,480.88 544.23,480.01 543.34,479.25 542.43,478.63 541.52,478.14 540.61,477.81 539.74,477.62 538.91,477.6 538.13,477.73 537.43,478.01" fill="#fff" stroke="#000" stroke-width="1.42"/>
<polygon points="539.26,480.45 538.81,480.76 538.42,481.18 538.1,481.68 537.86,482.28 537.7,482.94 537.63,483.67 537.64,484.45 537.73,485.26 537.91,486.1 538.17,486.94 538.5,487.78 538.91,488.6 539.38,489.39 539.9,490.13 540.47,490.81 541.07,491.41 541.71,491.94 542.35,492.37 543,492.7 543.65,492.93 544.27,493.05 544.87,493.06 545.43,492.96 545.94,492.75 546.39,492.44 546.78,492.02 547.1,491.52 547.34,490.92 547.5,490.26 547.57,489.53 547.56,488.75 547.47,487.94 547.29,487.1 547.03,486.26 546.7,485.42 546.29,484.6 545.82,483.81 545.3,483.07 544.73,482.39 544.13,481.79 543.49,481.26 542.85,480.83 542.2,480.5 541.55,480.27 540.93,480.15 540.33,480.14 539.77,480.24 539.26,480.45" fill="none" stroke="#000" stroke-width="0.94"/>
<polygon points="540.85,482.45 540.56,482.65 540.31,482.91 540.11,483.24 539.95,483.62 539.85,484.05 539.8,484.52 539.81,485.02 539.87,485.54 539.99,486.08 540.15,486.62 540.37,487.16 540.63,487.69 540.93,488.19 541.26,488.67 541.63,489.1 542.02,489.49 542.43,489.83 542.84,490.11 543.26,490.32 543.67,490.47 544.08,490.55 544.46,490.55 544.82,490.49 545.15,490.35 545.44,490.15 545.69,489.89 545.89,489.56 546.05,489.18 546.15,488.75 546.2,488.28 546.19,487.78 546.13,487.26 546.01,486.72 545.85,486.18 545.63,485.64 545.37,485.11 545.07,484.61 544.74,484.13 544.37,483.7 543.98,483.31 543.57,482.97 543.16,482.69 542.74,482.48 542.33,482.33 541.92,482.25 541.54,482.25 541.18,482.31 540.85,482.45" fill="none" stroke="#000" stroke-width="0.94"/>
<ellipse cx="557.8" cy="480.6" rx="3.6" ry="4.6" transform="rotate(-20 557.8 480.6)" fill="#fff" stroke="#000" stroke-width="1.42"/>
<ellipse cx="575.2" cy="467.8" rx="3" ry="2.2" transform="rotate(-35 575.2 467.8)" fill="#000" stroke="none"/>
<ellipse cx="576" cy="467.2" rx="0.8" ry="0.6" fill="#fff" stroke="none"/>
<ellipse cx="587" cy="461.7" rx="5.6" ry="8.4" transform="rotate(-35 587 461.7)" fill="#fff" stroke="#000" stroke-width="2.24"/>
<ellipse cx="587.6" cy="461.2" rx="3.8" ry="6" transform="rotate(-35 587.6 461.2)" fill="#fff" stroke="#000" stroke-width="1.06"/>
<path d="M583.5,469 L585,471 L587,470.2" fill="none" stroke="#000" stroke-width="1.42"/>
<line x1="557.8" y1="493" x2="557.8" y2="520.1" stroke="#000" stroke-width="1.18"/>
<line x1="557.8" y1="520.1" x2="605.7" y2="494.1" stroke="#000" stroke-width="1.18"/>
<line x1="576.5" y1="469.1" x2="576.5" y2="509.7" stroke="#000" stroke-width="1.18"/>
<line x1="605.7" y1="486" x2="605.7" y2="494.1" stroke="#000" stroke-width="1.18"/>
<line x1="593.2" y1="464.6" x2="605.7" y2="464.6" stroke="#000" stroke-width="1.18"/>
<line x1="605.7" y1="464.6" x2="605.7" y2="472" stroke="#000" stroke-width="1.18"/>
<text x="596.6" y="483.6" font-size="14.6" text-anchor="start" fill="#000" >1.1</text>
<line x1="584.2" y1="506.6" x2="584.2" y2="525.3" stroke="#000" stroke-width="1.18"/>
<text class="t" transform="translate(579.5,541.7) scale(0.95,1)" font-size="21.1" text-anchor="start" fill="#000" >1</text>
<path d="M363.6,646 Q363.6,642.6 369.6,642.6 Q375.6,642.6 375.6,646 L375.6,652 Q369.6,656 363.6,652 Z" fill="#000" stroke="#000" stroke-width="0.94"/>
<ellipse cx="366.5" cy="647.5" rx="0.8" ry="0.8" fill="#fff" stroke="none"/>
<ellipse cx="369.6" cy="647" rx="0.8" ry="0.8" fill="#fff" stroke="none"/>
<ellipse cx="372.7" cy="647.5" rx="0.8" ry="0.8" fill="#fff" stroke="none"/>
<ellipse cx="368" cy="650.5" rx="0.8" ry="0.8" fill="#fff" stroke="none"/>
<ellipse cx="371.2" cy="650.5" rx="0.8" ry="0.8" fill="#fff" stroke="none"/>
<path d="M366.5,654 L366,657.5 Q369.6,659.5 373.5,657.5 L373,654" fill="#fff" stroke="#000" stroke-width="1.18"/>
<path d="M365.4,657.8 L365.4,690.2 L374.1,690.2 L374.1,657.8" fill="#fff" stroke="#000" stroke-width="1.3"/>
<path d="M369.6,690.8 C369,702 374,715 389.4,726.6 C394,722 397.6,719 397.6,712" fill="none" stroke="#000" stroke-width="0.94"/>
<rect x="473.6" y="652.9" width="193.4" height="106.2" stroke-linejoin="miter" fill="none" stroke="#000" stroke-width="1.53"/>
<line x1="531.2" y1="652.6" x2="531.2" y2="759.1" stroke="#222" stroke-width="1.42"/>
<line x1="587.4" y1="655.5" x2="587.4" y2="756.4" stroke="#222" stroke-width="1.42"/>
<line x1="534.2" y1="706.3" x2="661.5" y2="706.3" stroke="#333" stroke-width="1.42"/>
<text class="t" transform="translate(559.5,686) scale(0.95,1)" font-size="21.1" text-anchor="middle" fill="#000" >3</text>
<text class="t" transform="translate(559.8,739.2) scale(0.95,1)" font-size="21.1" text-anchor="middle" fill="#000" >16</text>
<path d="M509,700 L515,696.5 Q519.5,694.5 521.5,698 L522.5,702 L514,708 Z" fill="#000" stroke="#000" stroke-width="0.94"/>
<path d="M500.5,702.5 L507.5,698.2 L513,699.5 L514.5,707.5 L508.5,712 Z" fill="#fff" stroke="#000" stroke-width="1.18"/>
<line x1="507" y1="699.5" x2="508.8" y2="711" stroke="#000" stroke-width="0.94"/>
<polygon points="484.5,711.51 484.08,711.85 483.74,712.28 483.47,712.81 483.29,713.43 483.2,714.12 483.2,714.87 483.28,715.67 483.45,716.51 483.71,717.38 484.05,718.25 484.46,719.11 484.94,719.95 485.48,720.75 486.07,721.5 486.7,722.19 487.36,722.8 488.03,723.33 488.71,723.76 489.39,724.09 490.05,724.32 490.68,724.43 491.27,724.43 491.82,724.31 492.3,724.09 508.9,713.79 509.32,713.45 509.66,713.02 509.93,712.49 510.11,711.87 510.2,711.18 510.2,710.43 510.12,709.63 509.95,708.79 509.69,707.92 509.35,707.05 508.94,706.19 508.46,705.35 507.92,704.55 507.33,703.8 506.7,703.11 506.04,702.5 505.37,701.97 504.69,701.54 504.01,701.21 503.35,700.98 502.72,700.87 502.13,700.87 501.58,700.99 501.1,701.21" fill="#000" stroke="#000" stroke-width="0.94"/>
<polygon points="484.6,711.68 484.14,712.04 483.75,712.5 483.44,713.05 483.22,713.68 483.08,714.38 483.03,715.14 483.08,715.94 483.22,716.78 483.44,717.63 483.75,718.49 484.14,719.33 484.61,720.15 485.13,720.93 485.72,721.66 486.35,722.32 487.01,722.9 487.7,723.39 488.4,723.79 489.1,724.09 489.79,724.28 490.46,724.35 491.09,724.32 491.67,724.17 492.2,723.92 492.66,723.56 493.05,723.1 493.36,722.55 493.58,721.92 493.72,721.22 493.77,720.46 493.72,719.66 493.58,718.82 493.36,717.97 493.05,717.11 492.66,716.27 492.19,715.45 491.67,714.67 491.08,713.94 490.45,713.28 489.79,712.7 489.1,712.21 488.4,711.81 487.7,711.51 487.01,711.32 486.34,711.25 485.71,711.28 485.13,711.43 484.6,711.68" fill="#000" stroke="#000" stroke-width="0.94"/>
<polygon points="486.15,712.81 485.79,713.09 485.48,713.45 485.23,713.87 485.04,714.35 484.93,714.89 484.88,715.46 484.9,716.07 484.99,716.71 485.15,717.35 485.38,718 485.67,718.64 486.02,719.25 486.41,719.83 486.86,720.38 487.33,720.87 487.84,721.3 488.37,721.66 488.9,721.95 489.44,722.17 489.97,722.3 490.49,722.35 490.98,722.31 491.43,722.19 491.85,721.99 492.21,721.71 492.52,721.35 492.77,720.93 492.96,720.45 493.07,719.91 493.12,719.34 493.1,718.73 493.01,718.09 492.85,717.45 492.62,716.8 492.33,716.16 491.98,715.55 491.59,714.97 491.14,714.42 490.67,713.93 490.16,713.5 489.63,713.14 489.1,712.85 488.56,712.63 488.03,712.5 487.51,712.45 487.02,712.49 486.57,712.61 486.15,712.81" fill="#fff" stroke="none"/>
<polygon points="487.93,714.99 487.74,715.13 487.58,715.31 487.44,715.53 487.34,715.77 487.27,716.03 487.24,716.32 487.24,716.62 487.28,716.93 487.35,717.24 487.45,717.56 487.59,717.86 487.75,718.16 487.95,718.44 488.16,718.7 488.4,718.93 488.65,719.14 488.91,719.31 489.18,719.44 489.45,719.54 489.71,719.59 489.97,719.61 490.22,719.58 490.46,719.52 490.67,719.41 490.86,719.27 491.02,719.09 491.16,718.87 491.26,718.63 491.33,718.37 491.36,718.08 491.36,717.78 491.32,717.47 491.25,717.16 491.15,716.84 491.01,716.54 490.85,716.24 490.65,715.96 490.44,715.7 490.2,715.47 489.95,715.26 489.69,715.09 489.42,714.96 489.15,714.86 488.89,714.81 488.63,714.79 488.38,714.82 488.14,714.88 487.93,714.99" fill="#000" stroke="none"/>
<polyline points="498.11,720.48 498.53,720.15 498.87,719.71 499.14,719.18 499.32,718.57 499.41,717.88 499.41,717.12 499.33,716.32 499.16,715.48 498.9,714.62 498.56,713.75 498.15,712.89 497.67,712.05 497.13,711.25 496.54,710.49 495.91,709.81 495.25,709.19 494.58,708.66 493.9,708.23 493.22,707.9 492.56,707.68 491.93,707.56 491.34,707.57 490.79,707.68 490.31,707.91" fill="none" stroke="#777" stroke-width="0.59"/>
<polyline points="500.6,718.94 501.02,718.6 501.36,718.17 501.63,717.64 501.81,717.02 501.9,716.33 501.9,715.58 501.82,714.78 501.65,713.94 501.39,713.07 501.05,712.2 500.64,711.34 500.16,710.5 499.62,709.7 499.03,708.95 498.4,708.26 497.74,707.65 497.07,707.12 496.39,706.69 495.71,706.36 495.05,706.13 494.42,706.02 493.83,706.02 493.28,706.14 492.8,706.36" fill="none" stroke="#777" stroke-width="0.59"/>
<polyline points="503.09,717.39 503.51,717.06 503.85,716.62 504.12,716.09 504.3,715.48 504.39,714.79 504.39,714.03 504.31,713.23 504.14,712.39 503.88,711.53 503.54,710.66 503.13,709.8 502.65,708.96 502.11,708.16 501.52,707.4 500.89,706.72 500.23,706.1 499.56,705.57 498.88,705.14 498.2,704.81 497.54,704.59 496.91,704.47 496.32,704.48 495.77,704.59 495.29,704.82" fill="none" stroke="#777" stroke-width="0.59"/>
<polyline points="505.58,715.85 506,715.51 506.34,715.08 506.61,714.55 506.79,713.93 506.88,713.24 506.88,712.49 506.8,711.69 506.63,710.85 506.37,709.98 506.03,709.11 505.62,708.25 505.14,707.41 504.6,706.61 504.01,705.86 503.38,705.17 502.72,704.56 502.05,704.03 501.37,703.6 500.69,703.27 500.03,703.04 499.4,702.93 498.81,702.93 498.26,703.05 497.78,703.27" fill="none" stroke="#777" stroke-width="0.59"/>
<line x1="597" y1="685.5" x2="634.5" y2="664.5" stroke="#000" stroke-width="1.18"/>
<line x1="597.3" y1="679" x2="596.8" y2="692" stroke="#000" stroke-width="1.06"/>
<line x1="591.5" y1="689.2" x2="601.5" y2="683.5" stroke="#000" stroke-width="1.06"/>
<ellipse cx="598.5" cy="686.8" rx="2.6" ry="4.6" transform="rotate(-15 598.5 686.8)" fill="#fff" stroke="#000" stroke-width="1.42"/>
<polygon points="605.56,695.32 605.95,695.47 606.39,695.53 606.85,695.51 607.33,695.4 607.82,695.21 608.31,694.94 608.8,694.59 609.28,694.18 609.73,693.7 610.16,693.16 610.55,692.58 610.89,691.97 611.18,691.33 611.42,690.67 611.6,690.01 611.72,689.36 611.78,688.73 611.77,688.13 611.7,687.57 611.56,687.06 611.36,686.61 611.11,686.23 610.8,685.92 610.44,685.68 603.94,682.38 603.55,682.23 603.11,682.17 602.65,682.19 602.17,682.3 601.68,682.49 601.19,682.76 600.7,683.11 600.22,683.52 599.77,684 599.34,684.54 598.95,685.12 598.61,685.73 598.32,686.37 598.08,687.03 597.9,687.69 597.78,688.34 597.72,688.97 597.73,689.57 597.8,690.13 597.94,690.64 598.14,691.09 598.39,691.47 598.7,691.78 599.06,692.02" fill="#000" stroke="#000" stroke-width="0.71"/>
<polygon points="605.56,695.32 605.95,695.47 606.39,695.53 606.85,695.51 607.33,695.4 607.82,695.21 608.31,694.94 608.8,694.59 609.28,694.18 609.73,693.7 610.16,693.16 610.55,692.58 610.89,691.97 611.18,691.33 611.42,690.67 611.6,690.01 611.72,689.36 611.78,688.73 611.77,688.13 611.7,687.57 611.56,687.06 611.36,686.61 611.11,686.23 610.8,685.92 610.44,685.68 610.05,685.53 609.61,685.47 609.15,685.49 608.67,685.6 608.18,685.79 607.69,686.06 607.2,686.41 606.72,686.82 606.27,687.3 605.84,687.84 605.45,688.42 605.11,689.03 604.82,689.67 604.58,690.33 604.4,690.99 604.28,691.64 604.22,692.27 604.23,692.87 604.3,693.43 604.44,693.94 604.64,694.39 604.89,694.77 605.2,695.08 605.56,695.32" fill="#000" stroke="#000" stroke-width="0.71"/>
<path d="M602.5,687 l1.5,-2.5 M604.3,693 l-0.5,-4 l2.5,2.5 l0.3,-3.5" fill="none" stroke="#fff" stroke-width="0.71"/>
<path d="M608.5,688 l1.2,1 l-1.5,3" fill="none" stroke="#fff" stroke-width="0.71"/>
<line x1="635.3" y1="657.5" x2="634.8" y2="670.5" stroke="#000" stroke-width="1.06"/>
<line x1="629.5" y1="667.7" x2="639.5" y2="662" stroke="#000" stroke-width="1.06"/>
<ellipse cx="636.5" cy="665.3" rx="2.6" ry="4.6" transform="rotate(-15 636.5 665.3)" fill="#fff" stroke="#000" stroke-width="1.42"/>
<polygon points="643.56,673.82 643.95,673.97 644.39,674.03 644.85,674.01 645.33,673.9 645.82,673.71 646.31,673.44 646.8,673.09 647.28,672.68 647.73,672.2 648.16,671.66 648.55,671.08 648.89,670.47 649.18,669.83 649.42,669.17 649.6,668.51 649.72,667.86 649.78,667.23 649.77,666.63 649.7,666.07 649.56,665.56 649.36,665.11 649.11,664.73 648.8,664.42 648.44,664.18 641.94,660.88 641.55,660.73 641.11,660.67 640.65,660.69 640.17,660.8 639.68,660.99 639.19,661.26 638.7,661.61 638.22,662.02 637.77,662.5 637.34,663.04 636.95,663.62 636.61,664.23 636.32,664.87 636.08,665.53 635.9,666.19 635.78,666.84 635.72,667.47 635.73,668.07 635.8,668.63 635.94,669.14 636.14,669.59 636.39,669.97 636.7,670.28 637.06,670.52" fill="#000" stroke="#000" stroke-width="0.71"/>
<polygon points="643.56,673.82 643.95,673.97 644.39,674.03 644.85,674.01 645.33,673.9 645.82,673.71 646.31,673.44 646.8,673.09 647.28,672.68 647.73,672.2 648.16,671.66 648.55,671.08 648.89,670.47 649.18,669.83 649.42,669.17 649.6,668.51 649.72,667.86 649.78,667.23 649.77,666.63 649.7,666.07 649.56,665.56 649.36,665.11 649.11,664.73 648.8,664.42 648.44,664.18 648.05,664.03 647.61,663.97 647.15,663.99 646.67,664.1 646.18,664.29 645.69,664.56 645.2,664.91 644.72,665.32 644.27,665.8 643.84,666.34 643.45,666.92 643.11,667.53 642.82,668.17 642.58,668.83 642.4,669.49 642.28,670.14 642.22,670.77 642.23,671.37 642.3,671.93 642.44,672.44 642.64,672.89 642.89,673.27 643.2,673.58 643.56,673.82" fill="#000" stroke="#000" stroke-width="0.71"/>
<path d="M640.5,665.5 l1.5,-2.5 M642.3,671.5 l-0.5,-4 l2.5,2.5 l0.3,-3.5" fill="none" stroke="#fff" stroke-width="0.71"/>
<path d="M646.5,666.5 l1.2,1 l-1.5,3" fill="none" stroke="#fff" stroke-width="0.71"/>
<path d="M616.1,695.4 L616.1,678.9 Q616.1,676 619,676 Q621.9,676 621.9,678.9 L621.9,695.4" fill="#000" stroke="#000" stroke-width="1.06"/>
<path d="M617.4,681.5 L617.4,678 Q619,676.8 620.6,678 L620.6,681.5 Z" fill="#fff" stroke="none"/>
<line x1="618.1" y1="679" x2="619.9" y2="679" stroke="#000" stroke-width="0.59"/>
<ellipse cx="619" cy="698.4" rx="4.9" ry="4.9" fill="#000" stroke="none"/>
<path d="M651.9,674.7 L651.9,658.1 Q651.9,655.2 654.8,655.2 Q657.6999999999999,655.2 657.6999999999999,658.1 L657.6999999999999,674.7" fill="#fff" stroke="#000" stroke-width="1.18"/>
<line x1="652.2" y1="658.4" x2="657.4" y2="658.4" stroke="#000" stroke-width="0.94"/>
<line x1="652.2" y1="660.62" x2="657.4" y2="660.62" stroke="#000" stroke-width="0.94"/>
<line x1="652.2" y1="662.83" x2="657.4" y2="662.83" stroke="#000" stroke-width="0.94"/>
<line x1="652.2" y1="665.05" x2="657.4" y2="665.05" stroke="#000" stroke-width="0.94"/>
<line x1="652.2" y1="667.27" x2="657.4" y2="667.27" stroke="#000" stroke-width="0.94"/>
<line x1="652.2" y1="669.48" x2="657.4" y2="669.48" stroke="#000" stroke-width="0.94"/>
<line x1="652.2" y1="671.7" x2="657.4" y2="671.7" stroke="#000" stroke-width="0.94"/>
<ellipse cx="654.8" cy="677.7" rx="4.9" ry="4.9" fill="#000" stroke="none"/>
<line x1="597.5" y1="739.5" x2="634.7" y2="718" stroke="#000" stroke-width="1.18"/>
<line x1="597.8" y1="733" x2="597.3" y2="746" stroke="#000" stroke-width="1.06"/>
<line x1="592" y1="743.2" x2="602" y2="737.5" stroke="#000" stroke-width="1.06"/>
<ellipse cx="599" cy="740.8" rx="2.6" ry="4.6" transform="rotate(-15 599 740.8)" fill="#fff" stroke="#000" stroke-width="1.42"/>
<polygon points="606.06,749.32 606.45,749.47 606.89,749.53 607.35,749.51 607.83,749.4 608.32,749.21 608.81,748.94 609.3,748.59 609.78,748.18 610.23,747.7 610.66,747.16 611.05,746.58 611.39,745.97 611.68,745.33 611.92,744.67 612.1,744.01 612.22,743.36 612.28,742.73 612.27,742.13 612.2,741.57 612.06,741.06 611.86,740.61 611.61,740.23 611.3,739.92 610.94,739.68 604.44,736.38 604.05,736.23 603.61,736.17 603.15,736.19 602.67,736.3 602.18,736.49 601.69,736.76 601.2,737.11 600.72,737.52 600.27,738 599.84,738.54 599.45,739.12 599.11,739.73 598.82,740.37 598.58,741.03 598.4,741.69 598.28,742.34 598.22,742.97 598.23,743.57 598.3,744.13 598.44,744.64 598.64,745.09 598.89,745.47 599.2,745.78 599.56,746.02" fill="#000" stroke="#000" stroke-width="0.71"/>
<polygon points="606.06,749.32 606.45,749.47 606.89,749.53 607.35,749.51 607.83,749.4 608.32,749.21 608.81,748.94 609.3,748.59 609.78,748.18 610.23,747.7 610.66,747.16 611.05,746.58 611.39,745.97 611.68,745.33 611.92,744.67 612.1,744.01 612.22,743.36 612.28,742.73 612.27,742.13 612.2,741.57 612.06,741.06 611.86,740.61 611.61,740.23 611.3,739.92 610.94,739.68 610.55,739.53 610.11,739.47 609.65,739.49 609.17,739.6 608.68,739.79 608.19,740.06 607.7,740.41 607.22,740.82 606.77,741.3 606.34,741.84 605.95,742.42 605.61,743.03 605.32,743.67 605.08,744.33 604.9,744.99 604.78,745.64 604.72,746.27 604.73,746.87 604.8,747.43 604.94,747.94 605.14,748.39 605.39,748.77 605.7,749.08 606.06,749.32" fill="#000" stroke="#000" stroke-width="0.71"/>
<path d="M603,741 l1.5,-2.5 M604.8,747 l-0.5,-4 l2.5,2.5 l0.3,-3.5" fill="none" stroke="#fff" stroke-width="0.71"/>
<path d="M609,742 l1.2,1 l-1.5,3" fill="none" stroke="#fff" stroke-width="0.71"/>
<line x1="635.6" y1="711.2" x2="635.1" y2="724.2" stroke="#000" stroke-width="1.06"/>
<line x1="629.8" y1="721.4" x2="639.8" y2="715.7" stroke="#000" stroke-width="1.06"/>
<ellipse cx="636.8" cy="719" rx="2.6" ry="4.6" transform="rotate(-15 636.8 719)" fill="#fff" stroke="#000" stroke-width="1.42"/>
<polygon points="643.86,727.52 644.25,727.67 644.69,727.73 645.15,727.71 645.63,727.6 646.12,727.41 646.61,727.14 647.1,726.79 647.58,726.38 648.03,725.9 648.46,725.36 648.85,724.78 649.19,724.17 649.48,723.53 649.72,722.87 649.9,722.21 650.02,721.56 650.08,720.93 650.07,720.33 650,719.77 649.86,719.26 649.66,718.81 649.41,718.43 649.1,718.12 648.74,717.88 642.24,714.58 641.85,714.43 641.41,714.37 640.95,714.39 640.47,714.5 639.98,714.69 639.49,714.96 639,715.31 638.52,715.72 638.07,716.2 637.64,716.74 637.25,717.32 636.91,717.93 636.62,718.57 636.38,719.23 636.2,719.89 636.08,720.54 636.02,721.17 636.03,721.77 636.1,722.33 636.24,722.84 636.44,723.29 636.69,723.67 637,723.98 637.36,724.22" fill="#000" stroke="#000" stroke-width="0.71"/>
<polygon points="643.86,727.52 644.25,727.67 644.69,727.73 645.15,727.71 645.63,727.6 646.12,727.41 646.61,727.14 647.1,726.79 647.58,726.38 648.03,725.9 648.46,725.36 648.85,724.78 649.19,724.17 649.48,723.53 649.72,722.87 649.9,722.21 650.02,721.56 650.08,720.93 650.07,720.33 650,719.77 649.86,719.26 649.66,718.81 649.41,718.43 649.1,718.12 648.74,717.88 648.35,717.73 647.91,717.67 647.45,717.69 646.97,717.8 646.48,717.99 645.99,718.26 645.5,718.61 645.02,719.02 644.57,719.5 644.14,720.04 643.75,720.62 643.41,721.23 643.12,721.87 642.88,722.53 642.7,723.19 642.58,723.84 642.52,724.47 642.53,725.07 642.6,725.63 642.74,726.14 642.94,726.59 643.19,726.97 643.5,727.28 643.86,727.52" fill="#000" stroke="#000" stroke-width="0.71"/>
<path d="M640.8,719.2 l1.5,-2.5 M642.5999999999999,725.2 l-0.5,-4 l2.5,2.5 l0.3,-3.5" fill="none" stroke="#fff" stroke-width="0.71"/>
<path d="M646.8,720.2 l1.2,1 l-1.5,3" fill="none" stroke="#fff" stroke-width="0.71"/>
<path d="M616.6,749 L616.6,733.1 Q616.6,730.2 619.5,730.2 Q622.4,730.2 622.4,733.1 L622.4,749" fill="#fff" stroke="#000" stroke-width="1.18"/>
<line x1="616.9" y1="733.4" x2="622.1" y2="733.4" stroke="#000" stroke-width="0.94"/>
<line x1="616.9" y1="735.5" x2="622.1" y2="735.5" stroke="#000" stroke-width="0.94"/>
<line x1="616.9" y1="737.6" x2="622.1" y2="737.6" stroke="#000" stroke-width="0.94"/>
<line x1="616.9" y1="739.7" x2="622.1" y2="739.7" stroke="#000" stroke-width="0.94"/>
<line x1="616.9" y1="741.8" x2="622.1" y2="741.8" stroke="#000" stroke-width="0.94"/>
<line x1="616.9" y1="743.9" x2="622.1" y2="743.9" stroke="#000" stroke-width="0.94"/>
<line x1="616.9" y1="746" x2="622.1" y2="746" stroke="#000" stroke-width="0.94"/>
<ellipse cx="619.5" cy="752" rx="4.9" ry="4.9" fill="#000" stroke="none"/>
<path d="M652.5,728.5 L652.5,712.6999999999999 Q652.5,709.8 655.4,709.8 Q658.3,709.8 658.3,712.6999999999999 L658.3,728.5" fill="#000" stroke="#000" stroke-width="1.06"/>
<path d="M653.8,715.3 L653.8,711.8 Q655.4,710.5999999999999 657.0,711.8 L657.0,715.3 Z" fill="#fff" stroke="none"/>
<line x1="654.5" y1="712.8" x2="656.3" y2="712.8" stroke="#000" stroke-width="0.59"/>
<ellipse cx="655.4" cy="731.5" rx="4.9" ry="4.9" fill="#000" stroke="none"/>
<rect x="473.6" y="759.1" width="193.4" height="191.2" stroke-linejoin="miter" fill="none" stroke="#000" stroke-width="1.53"/>
<line x1="548.5" y1="759.1" x2="548.5" y2="950.3" stroke="#222" stroke-width="1.42"/>
<text class="t" transform="translate(511,779.2) scale(0.95,1)" font-size="21.1" text-anchor="middle" fill="#000" >18</text>
<text transform="translate(510.6,797.2) scale(0.9,1)" font-size="15" text-anchor="middle" fill="#000">X+150mm</text>
<line x1="478.8" y1="801.3" x2="541.8" y2="801.3" stroke="#000" stroke-width="1.3"/>
<text class="t" transform="translate(508.8,820.4) scale(0.95,1)" font-size="21.1" text-anchor="middle" fill="#000" >19</text>
<text transform="translate(510.6,837.9) scale(0.9,1)" font-size="15" text-anchor="middle" fill="#000">X-150mm</text>
<line x1="478.8" y1="842.4" x2="541.8" y2="842.4" stroke="#000" stroke-width="1.3"/>
<path d="M492.2,859 L492.2,905 Q496.9,906.5 501.7,905 L501.7,859" fill="#fff" stroke="#8a8a8a" stroke-width="1.18"/>
<ellipse cx="496.95" cy="859" rx="4.75" ry="2.5" fill="#fff" stroke="#8a8a8a" stroke-width="1.18"/>
<path d="M492.2,909 Q496.9,907.8 501.7,909 L501.7,940 Q501.7,943 496.95,943 Q492.2,943 492.2,940 Z" fill="#fff" stroke="#8a8a8a" stroke-width="1.18"/>
<ellipse cx="512" cy="881.1" rx="3.4" ry="2.6" fill="#fff" stroke="#8a8a8a" stroke-width="1.18"/>
<line x1="509.5" y1="881.8" x2="514.5" y2="881.8" stroke="#8a8a8a" stroke-width="0.94"/>
<path d="M522.1,848.3 L522.1,887.7 L526.7,886.8 L526.7,848.3" fill="#fff" stroke="#8a8a8a" stroke-width="1.18"/>
<ellipse cx="524.4" cy="848.3" rx="2.3" ry="1.3" fill="#fff" stroke="#8a8a8a" stroke-width="1.18"/>
<path d="M522.1,892.3 L526.7,892.3 L526.7,926.8 Q524.4,928.6 522.1,926.8 Z" fill="#fff" stroke="#8a8a8a" stroke-width="1.18"/>
<line x1="603.6" y1="774.3" x2="603.6" y2="930.8" stroke="#000" stroke-width="1.65"/>
<line x1="603.3" y1="775.5" x2="592.2" y2="786.9" stroke="#000" stroke-width="1.18"/>
<line x1="603.3" y1="786.2" x2="592.2" y2="797.6" stroke="#000" stroke-width="1.18"/>
<line x1="603.3" y1="796.9" x2="592.2" y2="808.3" stroke="#000" stroke-width="1.18"/>
<line x1="603.3" y1="807.6" x2="592.2" y2="819" stroke="#000" stroke-width="1.18"/>
<line x1="603.3" y1="818.3" x2="592.2" y2="829.7" stroke="#000" stroke-width="1.18"/>
<line x1="603.3" y1="829" x2="592.2" y2="840.4" stroke="#000" stroke-width="1.18"/>
<line x1="603.3" y1="839.7" x2="592.2" y2="851.1" stroke="#000" stroke-width="1.18"/>
<line x1="603.3" y1="850.4" x2="592.2" y2="861.8" stroke="#000" stroke-width="1.18"/>
<line x1="603.3" y1="861.1" x2="592.2" y2="872.5" stroke="#000" stroke-width="1.18"/>
<line x1="603.3" y1="871.8" x2="592.2" y2="883.2" stroke="#000" stroke-width="1.18"/>
<line x1="603.3" y1="882.5" x2="592.2" y2="893.9" stroke="#000" stroke-width="1.18"/>
<line x1="603.3" y1="893.2" x2="592.2" y2="904.6" stroke="#000" stroke-width="1.18"/>
<line x1="603.3" y1="903.9" x2="592.2" y2="915.3" stroke="#000" stroke-width="1.18"/>
<line x1="603.3" y1="914.6" x2="592.2" y2="926" stroke="#000" stroke-width="1.18"/>
<line x1="603.3" y1="925.3" x2="597.9" y2="931" stroke="#000" stroke-width="1.18"/>
<line x1="592.5" y1="773.5" x2="593.5" y2="775" stroke="#000" stroke-width="1.18"/>
<line x1="562.9" y1="797.6" x2="603.6" y2="797.6" stroke="#666" stroke-width="1.18"/>
<line x1="562.9" y1="909.1" x2="603.6" y2="909.1" stroke="#666" stroke-width="1.18"/>
<line x1="570.6" y1="810" x2="570.6" y2="840.8" stroke="#666" stroke-width="1.18"/>
<line x1="570.6" y1="865" x2="570.6" y2="896" stroke="#666" stroke-width="1.18"/>
<path d="M570.6,797.8 L568.5,812 L572.7,812 Z" fill="#666" stroke="none"/>
<path d="M570.6,908.8 L568.5,894.5 L572.7,894.5 Z" fill="#666" stroke="none"/>
<text x="571.1" y="856.7" font-size="13.5" text-anchor="middle" fill="#000" >X</text>
<rect x="603.6" y="782.9" width="5.8" height="28.6" stroke-linejoin="miter" fill="#fff" stroke="#000" stroke-width="1.42"/>
<path d="M609.4,790.8 L625.5,790.8 Q629.9,792.5 634.3,790.8 L636.5,790.8 Q637.5,797 636.5,803.6 L634.3,803.6 Q629.9,802 625.5,803.6 L609.4,803.6" fill="#fff" stroke="#000" stroke-width="1.42"/>
<path d="M625.3,790.8 L625.3,777.2 L634.4,777.2 L634.4,790.8" fill="#fff" stroke="#000" stroke-width="1.3"/>
<line x1="625.5" y1="803.6" x2="634.1" y2="803.6" stroke="#999" stroke-width="0"/>
<path d="M625.5,803.8 L625.5,823.7 Q629.8,825 634.1,823.7 L634.1,803.8" fill="none" stroke="#999" stroke-width="1.3"/>
<path d="M625.5,852.3 L625.5,829.4 Q629.8,828.2 634.1,829.4 L634.1,852.3" fill="none" stroke="#999" stroke-width="1.3"/>
<line x1="625.5" y1="868.7" x2="625.5" y2="897.9" stroke="#999" stroke-width="1.3"/>
<line x1="634.1" y1="868.7" x2="634.1" y2="898.5" stroke="#999" stroke-width="1.3"/>
<path d="M612.2,854.2 L612.2,868.7 L622.9,868.7 L622.9,854.2 Z" fill="#fff" stroke="#000" stroke-width="1.3"/>
<path d="M617.2,854.2 L617.2,852.2 L620.8,852.2 L620.8,854.2" fill="#fff" stroke="#000" stroke-width="1.18"/>
<path d="M623.6,854.2 Q625.5,856 629.5,854.8 Q633.5,853.5 636.3,854.2 L636.3,868.7 Q632.5,867 629.5,867.8 Q626,868.8 623.6,868.7 Z" fill="#fff" stroke="#000" stroke-width="1.3"/>
<path d="M637,854.2 Q640,856 645,854.6 Q650,853.5 655.2,855 Q654,861.5 655.2,868 Q650,866.5 645,867.8 Q640,869 637,868.7 Z" fill="#fff" stroke="#000" stroke-width="1.3"/>
<rect x="603.9" y="894.3" width="9.8" height="28.7" stroke-linejoin="miter" fill="#fff" stroke="#000" stroke-width="1.42"/>
<rect x="613.7" y="902.4" width="7.8" height="12.6" stroke-linejoin="miter" fill="#fff" stroke="#000" stroke-width="1.3"/>
<line x1="614.2" y1="906" x2="621" y2="906" stroke="#000" stroke-width="0.94"/>
<line x1="614.2" y1="911" x2="621" y2="911" stroke="#000" stroke-width="0.94"/>
<path d="M621.5,902 L626,902 L626,897.9 L634.5,897.9 L634.5,915.1 L621.5,915.1 Z" fill="#fff" stroke="#000" stroke-width="1.3"/>
<ellipse cx="638.3" cy="906.1" rx="7.9" ry="7.9" fill="#fff" stroke="#000" stroke-width="1.53"/>
<path d="M635.5,914 L635.5,920.5 L641.5,920.5 L641.5,914" fill="#fff" stroke="#000" stroke-width="1.18"/>
<rect x="634.2" y="920.5" width="7.6" height="8.2" stroke-linejoin="miter" fill="#000" stroke="#000" stroke-width="0.71"/>
<ellipse cx="636" cy="922.5" rx="0.8" ry="0.7" fill="#fff" stroke="none"/>
<ellipse cx="639.8" cy="922.5" rx="0.8" ry="0.7" fill="#fff" stroke="none"/>
<ellipse cx="638" cy="925" rx="0.8" ry="0.7" fill="#fff" stroke="none"/>
<ellipse cx="636" cy="927" rx="0.8" ry="0.7" fill="#fff" stroke="none"/>
<ellipse cx="639.8" cy="927" rx="0.8" ry="0.7" fill="#fff" stroke="none"/>
<path d="M635,928.7 L635,939.3 L641.5,939.3 L641.5,928.7" fill="#fff" stroke="#000" stroke-width="1.18"/>
<rect x="635" y="931.5" width="6.5" height="2.5" stroke-linejoin="miter" fill="#000" stroke="none"/>
<rect x="271.7" y="867.3" width="202" height="83" stroke-linejoin="miter" fill="none" stroke="#000" stroke-width="1.3"/>
<line x1="329.5" y1="867.3" x2="329.5" y2="950.3" stroke="#777" stroke-width="1.53"/>
<line x1="372.5" y1="867.3" x2="372.5" y2="950.3" stroke="#222" stroke-width="1.3"/>
<line x1="429.9" y1="867.3" x2="429.9" y2="950.3" stroke="#777" stroke-width="1.53"/>
<text class="t" transform="translate(301.3,886.2) scale(0.95,1)" font-size="21.1" text-anchor="middle" fill="#000" >17</text>
<line x1="276.6" y1="888.8" x2="323.8" y2="888.8" stroke="#8a8a8a" stroke-width="1.77"/>
<text class="t" transform="translate(400.9,886.2) scale(0.95,1)" font-size="21.1" text-anchor="middle" fill="#000" >15</text>
<line x1="377.3" y1="888.8" x2="424.9" y2="888.8" stroke="#8a8a8a" stroke-width="1.77"/>
<text x="352" y="912.3" font-size="11" text-anchor="middle" fill="#000" >30mm</text>
<text x="450" y="892.8" font-size="11" text-anchor="middle" fill="#000" >34mm</text>
<path d="M283.6,921.5 L313.5,913.2 A5.2,5.2 0 1 1 316,921.2 L285.5,927.8 Q283,931.5 277.3,930 L280.5,927 L279.5,924.5 L276,924 Q278.5,917.5 283.6,921.5 Z" fill="#fff" stroke="#8a8a8a" stroke-width="1.18"/>
<ellipse cx="320.4" cy="916.4" rx="3" ry="3" fill="#fff" stroke="#8a8a8a" stroke-width="1.18"/>
<ellipse cx="352.2" cy="924.4" rx="6.8" ry="7.3" transform="rotate(20 352.2 924.4)" fill="#000" stroke="none"/>
<path d="M349,919.5 L353.5,918.8 L355.5,922.5 L353.5,927 L349,927.5 L347.3,923.5 Z" fill="#fff" stroke="none"/>
<path d="M350,921 L352.8,920.5 L353.5,923.5 L351,925.5 Z" fill="#000" stroke="none"/>
<path d="M395,910 L395,938 Q396,942 403,942.2 Q410,942 411,938 L411,910" fill="#fff" stroke="#8a8a8a" stroke-width="1.3"/>
<ellipse cx="403" cy="909.2" rx="8" ry="3.8" fill="#fff" stroke="#8a8a8a" stroke-width="1.3"/>
<ellipse cx="403" cy="909.6" rx="5" ry="2.1" fill="#fff" stroke="#8a8a8a" stroke-width="1.18"/>
<line x1="397" y1="905.8" x2="397" y2="912.5" stroke="#8a8a8a" stroke-width="0.83"/>
<line x1="400" y1="905.8" x2="400" y2="912.5" stroke="#8a8a8a" stroke-width="0.83"/>
<line x1="403" y1="905.8" x2="403" y2="912.5" stroke="#8a8a8a" stroke-width="0.83"/>
<line x1="406" y1="905.8" x2="406" y2="912.5" stroke="#8a8a8a" stroke-width="0.83"/>
<line x1="409" y1="905.8" x2="409" y2="912.5" stroke="#8a8a8a" stroke-width="0.83"/>
<path d="M395,915 Q403,917.5 411,915 M395,934.5 Q403,937.5 411,934.5 M395,937 Q403,940 411,937" fill="none" stroke="#8a8a8a" stroke-width="0.94"/>
<ellipse cx="398" cy="920" rx="1.2" ry="1.5" fill="none" stroke="#8a8a8a" stroke-width="0.94"/>
<ellipse cx="398" cy="932" rx="1.2" ry="1.5" fill="none" stroke="#8a8a8a" stroke-width="0.94"/>
<path d="M406,927 l2.5,-1 m-2.5,2.5 l2.5,-1" fill="none" stroke="#8a8a8a" stroke-width="0.94"/>
<polygon points="440.53,904.09 439.71,904.63 439.01,905.38 438.44,906.34 438.02,907.47 437.76,908.77 437.65,910.21 437.69,911.77 437.9,913.41 438.26,915.12 438.76,916.86 439.41,918.6 440.19,920.31 441.07,921.97 442.06,923.54 443.14,925 444.27,926.33 445.45,927.49 446.66,928.47 447.87,929.26 449.06,929.84 450.22,930.2 451.32,930.33 452.34,930.24 453.27,929.91 460.97,926.11 461.79,925.57 462.49,924.82 463.06,923.86 463.48,922.73 463.74,921.43 463.85,919.99 463.81,918.43 463.6,916.79 463.24,915.08 462.74,913.34 462.09,911.6 461.31,909.89 460.43,908.23 459.44,906.66 458.36,905.2 457.23,903.87 456.05,902.71 454.84,901.73 453.63,900.94 452.44,900.36 451.28,900 450.18,899.87 449.16,899.96 448.23,900.29" fill="#000" stroke="#000" stroke-width="1.18"/>
<polygon points="440.53,904.09 439.71,904.63 439.01,905.38 438.44,906.34 438.02,907.47 437.76,908.77 437.65,910.21 437.69,911.77 437.9,913.41 438.26,915.12 438.76,916.86 439.41,918.6 440.19,920.31 441.07,921.97 442.06,923.54 443.14,925 444.27,926.33 445.45,927.49 446.66,928.47 447.87,929.26 449.06,929.84 450.22,930.2 451.32,930.33 452.34,930.24 453.27,929.91 454.09,929.37 454.79,928.62 455.36,927.66 455.78,926.53 456.04,925.23 456.15,923.79 456.11,922.23 455.9,920.59 455.54,918.88 455.04,917.14 454.39,915.4 453.61,913.69 452.73,912.03 451.74,910.46 450.66,909 449.53,907.67 448.35,906.51 447.14,905.53 445.93,904.74 444.74,904.16 443.58,903.8 442.48,903.67 441.46,903.76 440.53,904.09" fill="#fff" stroke="#000" stroke-width="1.89"/>
<polygon points="441.32,905.7 440.6,906.18 439.99,906.84 439.5,907.67 439.13,908.66 438.9,909.8 438.8,911.06 438.84,912.42 439.02,913.86 439.34,915.35 439.78,916.88 440.35,918.4 441.02,919.9 441.8,921.35 442.67,922.73 443.61,924 444.6,925.16 445.63,926.18 446.69,927.04 447.75,927.73 448.79,928.23 449.8,928.55 450.77,928.66 451.66,928.58 452.48,928.3 453.2,927.82 453.81,927.16 454.3,926.33 454.67,925.34 454.9,924.2 455,922.94 454.96,921.58 454.78,920.14 454.46,918.65 454.02,917.12 453.45,915.6 452.78,914.1 452,912.65 451.13,911.27 450.19,910 449.2,908.84 448.17,907.82 447.11,906.96 446.05,906.27 445.01,905.77 444,905.45 443.03,905.34 442.14,905.42 441.32,905.7" fill="#fff" stroke="#000" stroke-width="1.18"/>
<ellipse cx="455" cy="903.5" rx="0.9" ry="1.4" transform="rotate(-30 455 903.5)" fill="#fff" stroke="none"/>
<ellipse cx="462.5" cy="916" rx="0.9" ry="1.4" transform="rotate(-30 462.5 916)" fill="#fff" stroke="none"/>
<ellipse cx="461.5" cy="922" rx="0.9" ry="1.4" transform="rotate(-30 461.5 922)" fill="#fff" stroke="none"/>
<ellipse cx="458.5" cy="906.5" rx="0.9" ry="1.4" transform="rotate(-30 458.5 906.5)" fill="#fff" stroke="none"/>
<ellipse cx="460.5" cy="911" rx="0.9" ry="1.4" transform="rotate(-30 460.5 911)" fill="#fff" stroke="none"/>
<ellipse cx="456.8" cy="926.5" rx="0.9" ry="1.4" transform="rotate(-30 456.8 926.5)" fill="#fff" stroke="none"/>
<polyline points="456.71,925.52 457.08,924.81 457.36,924.01 457.56,923.11 457.67,922.13 457.69,921.08 457.63,919.97 457.47,918.81 457.23,917.62 456.91,916.4 456.5,915.18 456.02,913.97 455.47,912.77 454.86,911.61 454.18,910.48 453.46,909.42 452.69,908.43 451.9,907.51 451.07,906.68 450.23,905.95 449.38,905.33 448.54,904.82 447.7,904.44 446.89,904.17 446.11,904.03" fill="none" stroke="#000" stroke-width="1.18"/>
<rect x="0" y="998.2" width="769" height="0.8" stroke-linejoin="miter" fill="#f0f0f0" stroke="none"/>
<rect x="0" y="999" width="769" height="1" stroke-linejoin="miter" fill="#dcdcdc" stroke="none"/>
</svg></body></html>
